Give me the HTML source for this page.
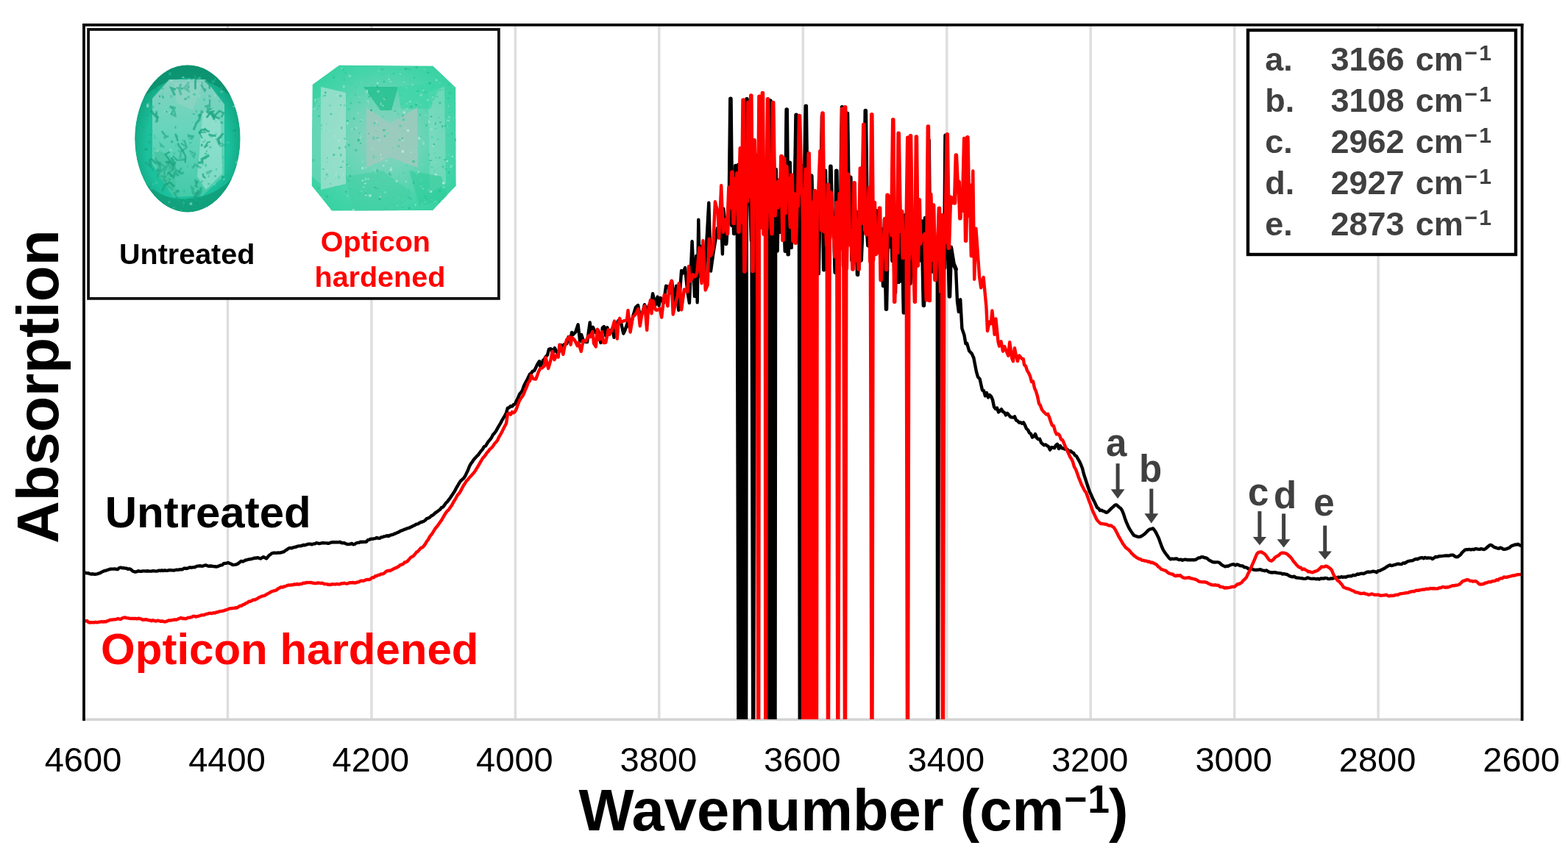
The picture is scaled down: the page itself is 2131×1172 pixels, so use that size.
<!DOCTYPE html>
<html><head><meta charset="utf-8"><title>Absorption spectra</title>
<style>
html,body{margin:0;padding:0;background:#fff;width:2131px;height:1172px;overflow:hidden}
svg{display:block}
text{font-family:"Liberation Sans", Arial, sans-serif}
</style></head><body>
<svg width="2131" height="1172" viewBox="0 0 2131 1172">
<defs><clipPath id="pa"><rect x="116" y="36" width="1951" height="942"/></clipPath></defs>
<rect width="2131" height="1172" fill="#fff"/>
<g stroke="#dedede" stroke-width="3.5"><line x1="309.5" y1="34" x2="309.5" y2="978"/><line x1="504.9" y1="34" x2="504.9" y2="978"/><line x1="700.4" y1="34" x2="700.4" y2="978"/><line x1="895.8" y1="34" x2="895.8" y2="978"/><line x1="1091.3" y1="34" x2="1091.3" y2="978"/><line x1="1286.8" y1="34" x2="1286.8" y2="978"/><line x1="1482.2" y1="34" x2="1482.2" y2="978"/><line x1="1677.7" y1="34" x2="1677.7" y2="978"/><line x1="1873.1" y1="34" x2="1873.1" y2="978"/></g>
<line x1="114" y1="978.3" x2="2068.6" y2="978.3" stroke="#d4d4d4" stroke-width="3.6"/>
<g font-weight="bold" font-size="60">
<text x="142.7" y="717.4" fill="#000">Untreated</text>
<text x="137.1" y="903.2" fill="#ff0000">Opticon hardened</text>
</g>
<g clip-path="url(#pa)" fill="none" stroke-width="4.4" stroke-linejoin="round" stroke-linecap="round">
<path d="M114.0 777.8L116.0 778.8 118.0 779.4 120.0 779.1 122.0 780.2 124.0 780.6 126.0 780.3 128.0 780.7 130.0 780.7 132.0 780.3 134.0 779.6 136.0 779.1 138.0 777.8 140.0 777.0 142.0 776.0 144.0 775.7 146.0 775.0 148.0 774.3 150.0 773.7 152.0 773.6 154.0 773.6 156.0 773.4 158.0 774.0 160.0 774.0 162.0 772.2 164.0 771.7 166.0 772.2 168.0 772.3 170.0 772.6 172.0 772.8 174.0 773.9 176.0 773.4 178.0 774.2 180.0 776.3 182.0 777.2 184.0 777.7 186.0 777.1 188.0 776.3 190.0 776.7 192.0 776.9 194.0 776.4 196.0 776.4 198.0 776.6 200.0 776.3 202.0 776.5 204.0 776.6 206.0 776.6 208.0 776.2 210.0 776.4 212.0 776.6 214.0 776.4 216.0 775.6 218.0 776.0 220.0 775.5 222.0 776.0 224.0 775.3 226.0 775.9 228.0 775.7 230.0 775.1 232.0 775.2 234.0 775.4 236.0 775.6 238.0 775.1 240.0 774.7 242.0 774.9 244.0 774.4 246.0 774.3 248.0 774.2 250.0 772.8 252.0 772.7 254.0 773.0 256.0 772.2 258.0 771.4 260.0 771.7 262.0 771.4 264.0 771.4 266.0 770.6 268.0 769.6 270.0 769.6 272.0 769.3 274.0 769.7 276.0 769.6 278.0 768.6 280.0 768.4 282.0 769.3 284.0 769.8 286.0 769.5 288.0 769.7 290.0 770.1 292.0 770.3 294.0 770.5 296.0 770.1 298.0 769.3 300.0 768.4 302.0 768.2 304.0 766.2 306.0 765.9 308.0 765.7 310.0 765.0 312.0 766.0 314.0 766.6 316.0 768.0 318.0 767.9 320.0 767.7 322.0 767.2 324.0 766.0 326.0 764.3 328.0 762.9 330.0 763.5 332.0 762.6 334.0 761.5 336.0 761.1 338.0 760.5 340.0 760.4 342.0 759.8 344.0 759.3 346.0 758.6 348.0 758.8 350.0 758.2 352.0 758.8 354.0 759.5 356.0 758.4 358.0 757.3 360.0 758.3 362.0 759.4 364.0 757.2 366.0 754.8 368.0 753.6 370.0 752.1 372.0 751.7 374.0 751.6 376.0 751.9 378.0 751.5 380.0 751.6 382.0 751.3 384.0 750.7 386.0 750.1 388.0 748.4 390.0 747.3 392.0 745.8 394.0 744.9 396.0 745.4 398.0 744.6 400.0 744.0 402.0 743.7 404.0 742.9 406.0 742.4 408.0 742.3 410.0 742.0 412.0 741.0 414.0 741.3 416.0 740.7 418.0 740.0 420.0 739.6 422.0 739.6 424.0 740.4 426.0 739.4 428.0 739.4 430.0 738.2 432.0 738.6 434.0 739.1 436.0 738.7 438.0 738.2 440.0 738.2 442.0 738.4 444.0 738.4 446.0 738.9 448.0 738.3 450.0 737.5 452.0 737.3 454.0 737.2 456.0 737.2 458.0 737.2 460.0 737.4 462.0 736.8 464.0 738.0 466.0 738.2 468.0 738.2 470.0 739.2 472.0 740.0 474.0 739.9 476.0 739.7 478.0 738.9 480.0 740.3 482.0 739.8 484.0 738.5 486.0 737.9 488.0 737.8 490.0 736.8 492.0 737.0 494.0 736.6 496.0 736.9 498.0 736.5 500.0 734.1 502.0 733.9 504.0 732.6 506.0 732.9 508.0 732.4 510.0 732.1 512.0 731.0 514.0 731.7 516.0 731.9 518.0 730.4 520.0 730.2 522.0 729.4 524.0 729.1 526.0 728.2 528.0 729.0 530.0 727.8 532.0 727.2 534.0 726.9 536.0 725.8 538.0 725.1 540.0 724.1 542.0 723.4 544.0 722.1 546.0 721.3 548.0 720.6 550.0 719.7 552.0 719.1 554.0 718.2 556.0 717.8 558.0 716.7 560.0 715.9 562.0 714.8 564.0 713.9 566.0 712.6 568.0 712.4 570.0 711.0 572.0 710.0 574.0 709.5 576.0 708.7 578.0 707.3 580.0 705.1 582.0 704.5 584.0 703.5 586.0 701.4 588.0 700.7 590.0 698.8 592.0 697.0 594.0 695.8 596.0 694.2 598.0 692.8 600.0 690.2 602.0 689.5 604.0 686.9 606.0 683.9 608.0 682.1 610.0 679.3 612.0 676.8 614.0 673.7 616.0 670.7 618.0 667.7 620.0 663.7 622.0 660.5 624.0 656.9 626.0 654.0 628.0 652.2 630.0 650.4 632.0 647.6 634.0 643.4 636.0 639.3 638.0 634.0 640.0 630.4 642.0 627.9 644.0 624.7 646.0 622.5 648.0 620.3 650.0 618.4 652.0 615.5 654.0 612.9 656.0 610.8 658.0 607.0 660.0 606.4 662.0 603.0 664.0 599.9 666.0 597.8 668.0 594.9 670.0 591.1 672.0 588.9 674.0 586.2 676.0 582.6 678.0 579.1 680.0 575.9 682.0 571.9 684.0 568.7 686.0 565.3 688.0 561.4 690.0 554.6 692.0 554.3 694.0 552.1 696.0 552.5 698.0 550.1 700.0 549.3 702.0 544.7 704.0 541.0 706.0 536.0 708.0 533.6 710.0 530.8 712.0 524.8 714.0 520.6 716.0 517.1 718.0 512.9 720.0 508.8 722.0 507.4 724.0 504.6 726.0 504.1 728.0 500.4 730.0 496.0 733.0 491.2 734.4 498.2 738.3 489.5 739.7 489.0 741.2 485.6 744.0 482.7 746.0 474.8 747.7 474.2 749.4 474.7 751.4 481.1 753.9 473.1 757.2 479.8 759.9 478.2 762.4 469.0 765.0 477.3 766.5 468.3 770.2 467.4 772.6 458.1 774.9 463.5 777.1 451.9 778.8 455.1 782.2 451.5 785.6 441.3 788.2 464.0 790.1 454.9 793.1 463.6 795.4 464.8 798.0 465.1 801.7 438.5 803.7 456.2 805.9 444.8 808.1 450.0 811.0 453.5 812.8 449.0 816.4 466.0 818.8 445.7 820.9 444.0 823.3 456.5 825.3 445.2 828.6 453.5 832.2 446.4 834.5 458.8 837.3 443.7 840.1 436.0 843.6 437.1 847.3 453.5 849.4 449.0 853.1 438.3 856.3 447.2 860.1 430.4 863.9 417.9 867.1 415.0 870.0 431.4 873.6 424.8 875.9 414.2 878.3 418.3 880.4 424.6 882.1 414.8 884.3 418.7 887.1 399.2 890.7 414.6 893.7 403.5 895.5 415.5 897.6 404.9 899.8 408.5 902.0 411.7 905.1 388.7 908.3 389.9 910.8 398.3 913.2 382.5 916.1 411.9 919.1 388.7 922.3 421.7 926.1 368.0 927.5 372.0 931.1 364.1 934.3 396.5 936.9 411.8 940.6 328.1 944.0 403.1 946.2 348.0 947.7 411.4 949.3 298.8 950.9 375.5 953.5 334.7 957.1 376.6 960.8 320.9 963.3 275.6 966.0 368.6 969.7 342.3 972.9 323.5 974.9 310.2 977.5 313.6 979.7 285.9 981.9 345.5 983.3 283.8 985.2 300.9 986.7 331.4 988.6 301.1 991.0 302.9 992.9 134.2 994.8 306.1 996.2 268.8 997.7 317.5 999.8 225.5 1001.8 304.7 1003.5 1010.0 1003.7 224.4 1004.5 1010.0 1005.6 357.3 1006.5 1010.0 1007.5 1010.0 1007.8 244.2 1009.5 1010.0 1009.5 310.0 1010.5 1010.0 1011.0 269.8 1013.1 1010.0 1013.3 310.1 1014.1 1010.0 1015.0 134.7 1017.2 270.4 1019.3 254.9 1021.5 326.6 1023.3 1010.0 1023.7 221.9 1024.3 1010.0 1025.4 309.9 1027.1 211.9 1029.0 294.4 1031.0 236.6 1033.3 262.4 1035.1 237.4 1036.8 262.2 1039.0 221.2 1041.2 270.2 1042.7 239.3 1044.3 1010.0 1044.4 260.1 1045.3 1010.0 1046.8 137.0 1048.9 353.1 1049.0 1010.0 1050.0 1010.0 1050.3 232.7 1052.1 319.2 1052.5 1010.0 1053.5 1010.0 1054.2 230.5 1056.0 341.0 1058.3 245.3 1060.3 315.3 1062.5 213.6 1064.0 289.4 1065.6 276.1 1067.3 341.2 1069.2 149.0 1071.2 345.6 1073.2 221.4 1075.2 336.3 1077.5 271.4 1079.8 296.9 1082.1 156.2 1083.7 299.9 1085.9 250.9 1086.8 1010.0 1087.8 1010.0 1088.3 353.6 1090.6 225.7 1093.0 280.7 1095.3 144.4 1097.1 290.4 1098.8 241.5 1100.6 276.7 1102.8 239.0 1105.2 343.6 1107.0 284.7 1108.5 304.5 1110.0 303.3 1112.2 371.8 1114.2 264.1 1115.7 283.1 1117.5 157.6 1119.7 366.7 1121.5 232.4 1123.7 365.5 1125.2 277.2 1126.8 358.7 1128.9 226.3 1130.8 305.6 1132.9 293.1 1135.2 370.2 1136.8 232.4 1138.3 352.4 1140.0 304.4 1142.3 314.3 1144.5 145.8 1146.6 361.0 1148.3 152.4 1149.8 360.2 1151.5 154.2 1153.6 300.6 1155.8 241.3 1158.0 353.9 1160.0 265.8 1161.9 325.4 1163.5 288.4 1165.5 373.3 1167.9 314.8 1170.2 354.0 1172.4 294.0 1174.5 315.8 1176.3 150.6 1178.3 309.6 1179.9 333.6 1181.8 326.1 1183.4 284.5 1185.6 354.8 1187.5 320.3 1189.0 325.6 1191.0 286.7 1192.5 313.6 1194.5 340.7 1196.8 318.4 1198.9 312.2 1200.6 388.5 1202.5 298.6 1204.5 420.3 1206.8 291.9 1208.7 335.1 1211.0 282.1 1213.0 354.3 1214.6 325.4 1216.4 397.8 1218.7 303.4 1221.1 383.3 1223.4 308.6 1224.9 381.7 1226.5 316.3 1228.4 425.0 1230.6 292.6 1232.6 357.6 1234.8 305.7 1236.8 385.4 1238.3 344.2 1239.7 325.4 1241.7 325.8 1243.6 366.4 1245.7 327.3 1247.6 328.4 1249.2 292.1 1250.7 353.8 1253.1 301.0 1255.4 415.2 1257.5 296.6 1259.8 379.5 1262.1 190.9 1263.8 358.0 1265.6 324.0 1267.5 369.0 1269.9 332.3 1271.9 363.7 1273.8 326.1 1274.0 1010.0 1275.0 1010.0 1276.1 354.0 1278.3 301.1 1279.9 333.3 1281.5 320.8 1283.6 364.1 1285.1 184.4 1286.7 350.2 1288.3 298.4 1290.5 402.9 1292.4 336.4 1296.0 358.6 1299.1 365.9 1301.0 409.7 1302.9 424.0 1305.2 407.1 1307.4 446.6 1310.5 455.8 1312.4 467.2 1314.1 466.7 1317.1 477.0 1320.9 481.1 1323.3 486.5 1326.9 505.2 1329.0 512.5 1331.6 515.3 1335.0 530.6 1337.0 531.1 1339.0 538.3 1341.0 534.1 1343.0 540.4 1345.0 537.0 1347.0 539.0 1349.0 543.5 1351.0 553.3 1353.0 556.0 1355.0 554.5 1357.0 560.4 1359.0 558.7 1361.0 556.4 1363.0 559.8 1365.0 560.8 1367.0 564.4 1369.0 561.8 1371.0 564.0 1373.0 566.6 1375.0 567.4 1377.0 567.6 1379.0 566.3 1381.0 571.4 1383.0 572.3 1385.0 574.7 1387.0 574.1 1389.0 575.8 1391.0 574.4 1393.0 578.1 1395.0 582.9 1397.0 584.5 1399.0 588.5 1401.0 589.9 1403.0 594.6 1405.0 593.6 1407.0 590.1 1409.0 595.3 1411.0 597.2 1413.0 596.8 1415.0 601.8 1417.0 603.6 1419.0 605.3 1421.0 604.5 1423.0 606.0 1425.0 607.1 1427.0 611.7 1429.0 608.3 1431.0 608.4 1433.0 609.3 1435.0 605.4 1437.0 603.8 1439.0 610.1 1441.0 606.1 1443.0 609.2 1445.0 609.5 1447.0 610.7 1449.0 610.0 1451.0 611.3 1453.0 614.1 1455.0 613.0 1457.0 615.0 1459.0 616.0 1461.0 619.1 1463.0 620.2 1465.0 623.9 1467.0 627.3 1469.0 631.6 1471.0 636.8 1473.0 644.8 1475.0 650.8 1477.0 657.0 1479.0 663.0 1481.0 668.7 1483.0 673.0 1485.0 677.6 1487.0 681.4 1489.0 685.6 1491.0 690.0 1493.0 691.4 1495.0 694.1 1497.0 693.6 1499.0 694.9 1501.0 695.3 1503.0 696.9 1505.0 696.5 1507.0 694.6 1509.0 692.6 1511.0 690.6 1513.0 689.0 1515.0 686.9 1517.0 686.3 1519.0 687.8 1521.0 689.7 1523.0 691.1 1525.0 694.0 1527.0 698.9 1529.0 705.2 1531.0 710.4 1533.0 714.9 1535.0 718.9 1537.0 722.1 1539.0 725.1 1541.0 727.9 1543.0 728.7 1545.0 729.3 1547.0 730.0 1549.0 729.9 1551.0 729.1 1553.0 727.8 1555.0 726.5 1557.0 724.7 1559.0 722.5 1561.0 720.7 1563.0 719.4 1565.0 719.1 1567.0 718.4 1569.0 720.8 1571.0 724.0 1573.0 728.1 1575.0 732.3 1577.0 738.1 1579.0 743.5 1581.0 747.9 1583.0 751.0 1585.0 753.8 1587.0 756.2 1589.0 759.0 1591.0 760.4 1593.0 759.6 1595.0 760.1 1597.0 759.7 1599.0 759.5 1601.0 760.6 1603.0 761.1 1605.0 760.7 1607.0 761.8 1609.0 761.0 1611.0 760.6 1613.0 761.2 1615.0 761.3 1617.0 761.2 1619.0 761.2 1621.0 761.3 1623.0 761.2 1625.0 761.0 1627.0 759.6 1629.0 758.5 1631.0 758.3 1633.0 757.3 1635.0 757.4 1637.0 758.2 1639.0 758.5 1641.0 759.5 1643.0 761.5 1645.0 762.4 1647.0 763.6 1649.0 764.3 1651.0 764.5 1653.0 764.4 1655.0 764.4 1657.0 764.8 1659.0 766.7 1661.0 768.4 1663.0 769.4 1665.0 770.4 1667.0 769.7 1669.0 769.8 1671.0 768.8 1673.0 768.0 1675.0 767.4 1677.0 767.3 1679.0 768.6 1681.0 767.5 1683.0 768.0 1685.0 769.0 1687.0 769.4 1689.0 769.5 1691.0 771.2 1693.0 771.4 1695.0 772.0 1697.0 773.7 1699.0 773.7 1701.0 773.1 1703.0 774.3 1705.0 774.8 1707.0 775.1 1709.0 774.6 1711.0 774.7 1713.0 774.2 1715.0 775.3 1717.0 775.7 1719.0 776.2 1721.0 775.5 1723.0 776.7 1725.0 777.8 1727.0 778.3 1729.0 778.5 1731.0 778.3 1733.0 778.2 1735.0 778.8 1737.0 779.1 1739.0 779.3 1741.0 779.4 1743.0 780.6 1745.0 780.1 1747.0 780.7 1749.0 781.0 1751.0 782.2 1753.0 783.3 1755.0 784.0 1757.0 784.3 1759.0 783.7 1761.0 785.3 1763.0 785.6 1765.0 785.7 1767.0 786.1 1769.0 786.2 1771.0 786.7 1773.0 786.9 1775.0 786.6 1777.0 785.4 1779.0 786.1 1781.0 786.6 1783.0 786.9 1785.0 786.7 1787.0 786.9 1789.0 787.3 1791.0 786.8 1793.0 787.6 1795.0 786.5 1797.0 786.4 1799.0 786.6 1801.0 785.9 1803.0 786.1 1805.0 787.0 1807.0 787.1 1809.0 786.4 1811.0 786.6 1813.0 785.8 1815.0 785.1 1817.0 785.1 1819.0 784.8 1821.0 785.1 1823.0 784.1 1825.0 784.8 1827.0 784.4 1829.0 784.7 1831.0 783.7 1833.0 783.4 1835.0 783.3 1837.0 783.2 1839.0 781.9 1841.0 782.3 1843.0 781.6 1845.0 780.5 1847.0 780.7 1849.0 779.9 1851.0 779.8 1853.0 780.1 1855.0 779.3 1857.0 778.1 1859.0 777.5 1861.0 777.7 1863.0 777.6 1865.0 777.0 1867.0 776.8 1869.0 777.3 1871.0 778.2 1873.0 776.1 1875.0 776.1 1877.0 774.9 1879.0 774.0 1881.0 773.0 1883.0 771.8 1885.0 770.4 1887.0 769.3 1889.0 768.3 1891.0 769.1 1893.0 768.6 1895.0 768.0 1897.0 767.6 1899.0 766.7 1901.0 766.8 1903.0 767.1 1905.0 767.0 1907.0 765.4 1909.0 765.8 1911.0 764.7 1913.0 763.4 1915.0 762.8 1917.0 762.4 1919.0 762.4 1921.0 761.5 1923.0 760.4 1925.0 760.0 1927.0 760.3 1929.0 758.9 1931.0 758.5 1933.0 758.1 1935.0 759.3 1937.0 757.9 1939.0 758.9 1941.0 758.5 1943.0 758.6 1945.0 758.7 1947.0 760.1 1949.0 758.6 1951.0 757.0 1953.0 757.4 1955.0 756.5 1957.0 756.2 1959.0 756.1 1961.0 755.9 1963.0 755.6 1965.0 755.5 1967.0 755.5 1969.0 755.6 1971.0 755.0 1973.0 754.6 1975.0 754.6 1977.0 756.4 1979.0 757.2 1981.0 757.1 1983.0 755.7 1985.0 754.1 1987.0 751.4 1989.0 749.5 1991.0 747.6 1993.0 747.1 1995.0 747.2 1997.0 746.8 1999.0 747.5 2001.0 746.8 2003.0 747.2 2005.0 746.1 2007.0 746.3 2009.0 746.7 2011.0 746.9 2013.0 746.2 2015.0 746.7 2017.0 747.0 2019.0 746.1 2021.0 744.2 2023.0 742.5 2025.0 741.0 2027.0 741.1 2029.0 742.7 2031.0 744.1 2033.0 744.6 2035.0 745.3 2037.0 745.9 2039.0 744.6 2041.0 745.4 2043.0 746.8 2045.0 746.8 2047.0 746.4 2049.0 745.7 2051.0 745.0 2053.0 743.2 2055.0 741.8 2057.0 741.3 2059.0 740.4 2061.0 740.6 2063.0 739.8 2065.0 741.0 2067.0 742.0 2069.0 742.6" stroke="#000"/>
<path d="M985.2 300.9L986.7 331.4 988.6 301.1 991.0 302.9 992.9 134.2 994.8 306.1 996.2 268.8 997.7 317.5 999.8 225.5 1001.8 304.7 1003.7 224.4 1005.6 357.3 1007.8 244.2 1009.5 310.0 1011.0 269.8 1013.3 310.1 1015.0 134.7 1017.2 270.4 1019.3 254.9 1021.5 326.6 1023.7 221.9 1025.4 309.9 1027.1 211.9 1029.0 294.4 1031.0 236.6 1033.3 262.4 1035.1 237.4 1036.8 262.2 1039.0 221.2 1041.2 270.2 1042.7 239.3 1044.4 260.1 1046.8 137.0 1048.9 353.1 1050.3 232.7 1052.1 319.2 1054.2 230.5 1056.0 341.0 1058.3 245.3 1060.3 315.3 1062.5 213.6 1064.0 289.4 1065.6 276.1 1067.3 341.2 1069.2 149.0 1071.2 345.6 1073.2 221.4 1075.2 336.3 1077.5 271.4 1079.8 296.9 1082.1 156.2 1083.7 299.9 1085.9 250.9 1088.3 353.6 1090.6 225.7 1093.0 280.7 1095.3 144.4 1097.1 290.4 1098.8 241.5 1100.6 276.7 1102.8 239.0 1105.2 343.6 1107.0 284.7 1108.5 304.5 1110.0 303.3 1112.2 371.8 1114.2 264.1 1115.7 283.1 1117.5 157.6 1119.7 366.7 1121.5 232.4 1123.7 365.5 1125.2 277.2 1126.8 358.7 1128.9 226.3 1130.8 305.6 1132.9 293.1 1135.2 370.2 1136.8 232.4 1138.3 352.4 1140.0 304.4 1142.3 314.3 1144.5 145.8 1146.6 361.0 1148.3 152.4 1149.8 360.2 1151.5 154.2 1153.6 300.6 1155.8 241.3 1158.0 353.9 1160.0 265.8 1161.9 325.4 1163.5 288.4 1165.5 373.3 1167.9 314.8 1170.2 354.0 1172.4 294.0 1174.5 315.8 1176.3 150.6 1178.3 309.6 1179.9 333.6 1181.8 326.1 1183.4 284.5 1185.6 354.8 1187.5 320.3 1189.0 325.6 1191.0 286.7 1192.5 313.6 1194.5 340.7 1196.8 318.4 1198.9 312.2 1200.6 388.5 1202.5 298.6 1204.5 420.3 1206.8 291.9 1208.7 335.1 1211.0 282.1 1213.0 354.3 1214.6 325.4 1216.4 397.8 1218.7 303.4 1221.1 383.3 1223.4 308.6 1224.9 381.7 1226.5 316.3 1228.4 425.0 1230.6 292.6 1232.6 357.6 1234.8 305.7 1236.8 385.4 1238.3 344.2 1239.7 325.4 1241.7 325.8 1243.6 366.4 1245.7 327.3 1247.6 328.4 1249.2 292.1 1250.7 353.8 1253.1 301.0 1255.4 415.2 1257.5 296.6 1259.8 379.5 1262.1 190.9 1263.8 358.0 1265.6 324.0 1267.5 369.0 1269.9 332.3 1271.9 363.7 1273.8 326.1 1276.1 354.0 1278.3 301.1 1279.9 333.3 1281.5 320.8 1283.6 364.1 1285.1 184.4 1286.7 350.2 1288.3 298.4 1290.5 402.9 1292.4 336.4 1296.0 358.6 1299.1 365.9" stroke="#000" stroke-width="5.6"/>
<path d="M112.0 843.8L114.0 844.0 116.0 844.5 118.0 843.9 120.0 845.8 122.0 846.6 124.0 846.2 126.0 846.4 128.0 846.3 130.0 845.8 132.0 846.3 134.0 845.8 136.0 845.6 138.0 845.1 140.0 845.5 142.0 845.3 144.0 845.3 146.0 844.3 148.0 843.7 150.0 842.6 152.0 842.7 154.0 842.4 156.0 842.2 158.0 842.0 160.0 841.1 162.0 841.5 164.0 842.1 166.0 840.6 168.0 839.8 170.0 839.4 172.0 840.3 174.0 840.4 176.0 840.9 178.0 841.0 180.0 840.9 182.0 841.0 184.0 840.9 186.0 841.4 188.0 840.8 190.0 841.0 192.0 841.7 194.0 842.9 196.0 842.5 198.0 842.3 200.0 842.5 202.0 843.4 204.0 843.4 206.0 844.2 208.0 843.1 210.0 844.1 212.0 844.6 214.0 843.7 216.0 844.0 218.0 844.7 220.0 844.5 222.0 844.8 224.0 845.5 226.0 844.8 228.0 844.1 230.0 843.4 232.0 843.5 234.0 843.1 236.0 842.7 238.0 842.5 240.0 842.6 242.0 841.6 244.0 840.8 246.0 839.9 248.0 841.0 250.0 840.8 252.0 841.3 254.0 840.6 256.0 839.7 258.0 839.7 260.0 839.2 262.0 838.2 264.0 837.7 266.0 838.6 268.0 838.1 270.0 837.7 272.0 837.0 274.0 836.2 276.0 836.4 278.0 835.8 280.0 834.9 282.0 834.6 284.0 833.9 286.0 833.8 288.0 834.1 290.0 833.1 292.0 833.5 294.0 832.5 296.0 832.2 298.0 831.4 300.0 831.1 302.0 830.8 304.0 830.3 306.0 829.6 308.0 829.0 310.0 828.4 312.0 827.4 314.0 827.2 316.0 827.0 318.0 826.9 320.0 826.3 322.0 826.5 324.0 825.2 326.0 823.8 328.0 823.9 330.0 822.1 332.0 821.8 334.0 820.2 336.0 819.6 338.0 817.8 340.0 817.8 342.0 816.8 344.0 815.5 346.0 815.6 348.0 814.8 350.0 813.6 352.0 812.3 354.0 811.5 356.0 810.6 358.0 810.2 360.0 809.6 362.0 808.2 364.0 807.1 366.0 806.1 368.0 804.8 370.0 804.0 372.0 803.3 374.0 802.8 376.0 802.1 378.0 800.2 380.0 799.4 382.0 798.1 384.0 798.5 386.0 797.5 388.0 797.1 390.0 796.1 392.0 795.5 394.0 795.6 396.0 795.3 398.0 795.3 400.0 794.3 402.0 794.7 404.0 793.9 406.0 794.7 408.0 793.9 410.0 794.0 412.0 792.7 414.0 792.9 416.0 792.2 418.0 792.0 420.0 792.1 422.0 792.0 424.0 792.3 426.0 792.8 428.0 793.1 430.0 793.0 432.0 792.5 434.0 792.6 436.0 793.1 438.0 792.6 440.0 793.8 442.0 794.0 444.0 794.1 446.0 794.8 448.0 795.0 450.0 794.8 452.0 794.1 454.0 794.4 456.0 794.5 458.0 793.9 460.0 794.4 462.0 794.4 464.0 793.1 466.0 793.3 468.0 792.7 470.0 793.5 472.0 793.6 474.0 792.7 476.0 792.2 478.0 792.3 480.0 792.0 482.0 792.5 484.0 792.2 486.0 791.4 488.0 791.2 490.0 789.6 492.0 789.7 494.0 789.8 496.0 789.0 498.0 788.1 500.0 787.9 502.0 788.1 504.0 786.9 506.0 785.3 508.0 785.3 510.0 783.3 512.0 783.0 514.0 781.9 516.0 781.7 518.0 780.4 520.0 780.4 522.0 779.5 524.0 777.6 526.0 776.2 528.0 775.8 530.0 776.0 532.0 775.0 534.0 774.0 536.0 772.9 538.0 772.2 540.0 771.2 542.0 770.0 544.0 768.2 546.0 767.7 548.0 766.8 550.0 764.5 552.0 764.3 554.0 762.7 556.0 760.5 558.0 758.0 560.0 757.1 562.0 755.7 564.0 753.5 566.0 750.7 568.0 749.7 570.0 747.3 572.0 745.0 574.0 744.3 576.0 742.4 578.0 739.6 580.0 736.2 582.0 733.7 584.0 729.6 586.0 727.3 588.0 724.4 590.0 721.2 592.0 718.0 594.0 715.8 596.0 713.0 598.0 710.1 600.0 707.4 602.0 703.8 604.0 700.4 606.0 697.1 608.0 694.7 610.0 692.7 612.0 689.8 614.0 687.1 616.0 683.2 618.0 680.0 620.0 676.5 622.0 672.9 624.0 670.9 626.0 667.8 628.0 663.8 630.0 660.1 632.0 657.2 634.0 653.9 636.0 652.0 638.0 649.3 640.0 647.3 642.0 644.9 644.0 642.8 646.0 639.9 648.0 636.6 650.0 633.3 652.0 629.8 654.0 626.3 656.0 623.1 658.0 620.9 660.0 618.3 662.0 615.3 664.0 613.2 666.0 610.4 668.0 608.9 670.0 606.6 672.0 603.3 674.0 601.3 676.0 598.9 678.0 594.3 680.0 591.1 682.0 587.7 684.0 583.3 686.0 579.5 688.0 575.8 690.0 562.5 692.0 561.8 694.0 563.6 696.0 560.1 698.0 561.2 700.0 559.6 702.0 555.5 704.0 549.7 706.0 544.7 708.0 541.5 710.0 538.8 712.0 535.3 714.0 530.0 716.0 525.6 718.0 520.0 720.0 518.0 722.0 510.3 724.9 515.1 728.3 515.5 731.9 505.4 734.2 501.0 736.7 500.3 739.8 497.4 741.6 485.9 745.2 501.0 748.4 489.9 750.8 477.8 753.5 489.2 756.4 482.9 758.7 485.5 760.4 468.6 762.9 473.3 765.4 481.8 767.3 471.9 770.2 461.7 773.8 457.9 775.6 468.7 777.4 458.8 780.9 462.3 784.8 470.3 786.1 465.8 789.8 477.8 792.6 463.2 796.4 463.6 800.1 456.3 802.2 458.1 805.4 450.7 807.0 466.8 809.8 471.4 811.9 447.8 813.3 461.7 815.8 461.2 817.8 451.0 820.3 466.1 823.3 465.7 826.7 448.2 828.1 455.1 831.6 448.9 835.0 436.6 837.5 448.3 838.8 460.5 840.4 439.6 842.2 432.8 843.6 438.0 846.8 436.8 849.1 435.9 851.9 435.6 853.5 422.0 856.6 451.6 860.0 431.0 863.6 427.6 867.3 420.0 869.8 443.2 872.7 425.1 876.4 415.7 879.2 448.8 880.8 423.1 884.0 407.9 885.5 426.2 887.6 409.0 889.1 415.1 891.1 421.4 892.6 421.7 895.1 421.0 896.8 419.3 899.2 431.5 902.7 401.0 904.1 400.9 907.5 416.2 909.3 391.5 912.6 381.7 914.7 427.5 918.1 412.3 920.7 402.7 922.6 385.3 924.4 396.7 926.1 421.4 929.9 393.4 932.5 395.9 934.5 396.7 936.1 362.2 937.6 382.4 940.0 379.8 941.6 373.3 944.7 376.3 947.3 371.3 950.4 336.6 952.0 367.2 953.6 385.2 955.4 327.2 958.7 394.5 961.7 387.4 963.7 324.6 966.1 347.5 969.0 338.8 971.9 274.3 975.6 289.2 977.2 323.8 980.2 252.2 982.8 315.7 986.3 298.7 988.6 317.6 990.9 255.2 993.3 281.9 995.0 234.1 997.1 303.4 998.7 243.4 1000.3 275.6 1001.9 235.9 1004.0 315.1 1006.3 201.7 1008.3 302.1 1010.1 136.1 1011.9 369.0 1013.5 233.4 1015.3 273.8 1016.9 139.4 1018.5 266.6 1020.8 130.0 1023.1 368.5 1025.1 190.8 1026.9 278.1 1028.9 265.9 1030.2 1010.0 1030.5 290.3 1031.2 1010.0 1032.0 131.4 1034.4 309.1 1036.4 126.6 1037.9 318.1 1039.9 249.8 1040.2 1010.0 1041.2 1010.0 1041.8 310.4 1043.5 134.7 1045.2 283.7 1046.6 265.8 1049.0 317.6 1050.7 139.6 1053.0 292.8 1054.9 248.1 1057.0 281.8 1058.6 246.3 1060.1 278.7 1061.9 212.5 1064.0 326.5 1065.6 215.7 1067.1 289.6 1068.8 226.6 1070.6 268.5 1072.1 243.0 1074.4 308.4 1076.2 238.1 1078.0 327.4 1079.8 264.4 1081.3 330.2 1083.0 271.9 1084.5 279.8 1086.5 157.5 1088.8 255.0 1091.0 267.5 1091.0 1010.0 1092.0 1010.0 1092.9 349.3 1094.0 1010.0 1095.0 1010.0 1095.3 230.4 1097.0 1010.0 1097.4 335.0 1098.0 1010.0 1099.2 208.8 1100.0 1010.0 1101.0 1010.0 1101.2 352.8 1103.0 1010.0 1103.4 275.3 1104.0 1010.0 1105.5 340.4 1106.0 1010.0 1107.0 1010.0 1107.3 259.5 1108.8 312.9 1109.0 1010.0 1110.0 1010.0 1110.7 277.9 1112.6 269.4 1114.9 205.5 1116.3 312.1 1118.0 154.0 1119.9 314.5 1122.2 293.8 1123.7 333.1 1125.0 1010.0 1125.5 251.3 1126.0 1010.0 1127.7 323.4 1129.5 262.2 1131.0 307.6 1132.5 296.5 1134.8 348.8 1137.2 275.6 1138.3 1010.0 1139.0 355.6 1139.3 1010.0 1141.2 263.6 1143.0 337.8 1144.8 148.0 1146.3 333.6 1148.0 1010.0 1148.7 145.8 1149.0 1010.0 1150.3 364.8 1152.7 237.4 1154.5 332.5 1156.7 314.0 1159.0 366.0 1161.1 248.7 1163.4 354.3 1165.4 299.9 1167.2 365.9 1169.4 229.1 1171.6 303.0 1173.8 169.6 1175.6 311.7 1177.6 318.6 1179.4 302.1 1181.3 255.6 1182.9 355.4 1184.5 1010.0 1184.8 155.9 1185.5 1010.0 1186.6 353.3 1188.4 275.5 1190.3 345.5 1192.0 312.0 1193.7 343.2 1195.6 283.0 1197.2 380.7 1199.5 324.2 1201.2 337.8 1202.8 297.6 1204.6 366.4 1206.1 265.2 1207.5 313.5 1209.3 267.5 1211.7 319.4 1213.8 162.9 1215.7 410.3 1218.1 279.9 1219.7 343.5 1221.2 181.4 1223.5 314.1 1225.7 287.5 1227.3 350.4 1229.6 329.1 1231.7 333.1 1233.0 1010.0 1233.8 187.2 1234.0 1010.0 1235.4 351.8 1237.5 184.8 1239.7 344.1 1241.5 328.3 1243.4 410.1 1245.4 186.1 1247.3 360.9 1249.3 271.8 1250.7 331.3 1252.5 321.0 1254.5 323.0 1256.9 318.3 1259.3 407.7 1261.4 172.1 1263.3 408.4 1264.8 264.2 1267.1 353.2 1268.6 279.1 1270.9 380.4 1273.2 332.4 1274.9 329.1 1276.4 283.4 1278.7 396.4 1280.1 292.5 1280.9 1010.0 1281.7 307.8 1281.9 1010.0 1283.3 315.1 1285.0 329.4 1287.3 182.8 1289.4 337.1 1291.5 268.0 1293.8 275.7 1295.5 269.2 1297.6 275.9 1299.4 211.1 1301.4 255.2 1303.1 247.1 1304.9 296.8 1306.7 261.0 1308.3 286.2 1310.7 188.6 1312.6 327.2 1314.9 186.9 1316.8 293.1 1318.4 252.1 1320.4 347.7 1322.3 232.4 1324.2 379.7 1326.4 310.6 1328.7 343.0 1331.0 375.7 1333.2 391.2 1336.6 377.0 1340.4 416.9 1342.0 450.0 1344.7 437.4 1346.8 440.0 1348.4 422.4 1351.6 454.9 1353.4 433.4 1356.5 464.4 1358.1 470.7 1360.6 464.4 1363.0 477.7 1365.1 470.9 1367.2 476.1 1370.3 483.6 1372.2 465.1 1375.2 487.1 1376.9 491.2 1378.9 473.2 1380.5 481.3 1382.9 491.1 1385.1 483.4 1388.7 487.7 1390.7 487.9 1392.0 496.0 1394.0 497.7 1396.0 503.9 1398.0 507.0 1400.0 511.4 1402.0 519.1 1404.0 518.5 1406.0 527.6 1408.0 532.1 1410.0 538.8 1412.0 548.6 1414.0 551.4 1416.0 556.9 1418.0 559.5 1420.0 561.5 1422.0 563.5 1424.0 562.8 1426.0 567.1 1428.0 573.3 1430.0 578.4 1432.0 579.0 1434.0 586.4 1436.0 590.4 1438.0 589.9 1440.0 591.8 1442.0 597.4 1444.0 598.3 1446.0 602.5 1448.0 607.6 1450.0 611.9 1452.0 616.1 1454.0 620.7 1456.0 623.7 1458.0 627.8 1460.0 634.9 1462.0 638.1 1464.0 643.5 1466.0 649.4 1468.0 654.1 1470.0 659.3 1472.0 663.0 1474.0 667.1 1476.0 669.5 1478.0 675.0 1480.0 680.8 1482.0 685.8 1484.0 692.0 1486.0 696.8 1488.0 701.0 1490.0 705.4 1492.0 708.3 1494.0 710.3 1496.0 712.0 1498.0 712.1 1500.0 712.4 1502.0 712.7 1504.0 713.0 1506.0 714.1 1508.0 714.7 1510.0 714.5 1512.0 716.0 1514.0 717.3 1516.0 720.7 1518.0 724.6 1520.0 728.6 1522.0 732.1 1524.0 735.5 1526.0 739.1 1528.0 741.8 1530.0 744.6 1532.0 746.1 1534.0 747.5 1536.0 749.7 1538.0 752.4 1540.0 754.2 1542.0 756.1 1544.0 757.6 1546.0 758.7 1548.0 760.0 1550.0 760.3 1552.0 761.8 1554.0 761.9 1556.0 762.6 1558.0 762.6 1560.0 763.7 1562.0 763.5 1564.0 765.0 1566.0 764.7 1568.0 765.7 1570.0 766.8 1572.0 767.8 1574.0 770.3 1576.0 771.6 1578.0 773.9 1580.0 774.5 1582.0 775.3 1584.0 775.7 1586.0 777.5 1588.0 779.1 1590.0 779.9 1592.0 780.5 1594.0 780.8 1596.0 782.7 1598.0 783.2 1600.0 782.3 1602.0 782.9 1604.0 782.2 1606.0 784.1 1608.0 785.4 1610.0 785.9 1612.0 785.7 1614.0 785.5 1616.0 785.2 1618.0 786.3 1620.0 786.5 1622.0 787.1 1624.0 787.5 1626.0 788.3 1628.0 789.5 1630.0 790.8 1632.0 791.1 1634.0 791.4 1636.0 791.3 1638.0 791.5 1640.0 791.9 1642.0 793.3 1644.0 794.0 1646.0 795.0 1648.0 795.4 1650.0 795.5 1652.0 795.3 1654.0 795.9 1656.0 795.8 1658.0 797.7 1660.0 798.0 1662.0 798.1 1664.0 799.5 1666.0 799.0 1668.0 799.3 1670.0 798.9 1672.0 798.6 1674.0 797.9 1676.0 797.7 1678.0 797.7 1680.0 795.9 1682.0 794.0 1684.0 794.2 1686.0 792.9 1688.0 791.4 1690.0 788.9 1692.0 787.2 1694.0 784.9 1696.0 780.4 1698.0 776.9 1700.0 772.4 1702.0 767.6 1704.0 763.1 1706.0 758.4 1708.0 753.5 1710.0 751.1 1712.0 750.7 1714.0 750.3 1716.0 751.5 1718.0 752.6 1720.0 754.5 1722.0 757.3 1724.0 760.3 1726.0 762.1 1728.0 762.7 1730.0 761.3 1732.0 758.8 1734.0 757.1 1736.0 756.0 1738.0 755.0 1740.0 752.8 1742.0 751.6 1744.0 751.8 1746.0 752.0 1748.0 752.6 1750.0 753.9 1752.0 755.8 1754.0 757.7 1756.0 760.1 1758.0 763.4 1760.0 765.4 1762.0 768.0 1764.0 770.0 1766.0 771.5 1768.0 771.8 1770.0 774.3 1772.0 773.5 1774.0 774.6 1776.0 775.6 1778.0 777.3 1780.0 777.2 1782.0 778.1 1784.0 778.2 1786.0 777.3 1788.0 776.6 1790.0 776.0 1792.0 774.5 1794.0 772.8 1796.0 770.4 1798.0 770.8 1800.0 770.3 1802.0 769.6 1804.0 770.4 1806.0 771.7 1808.0 773.0 1810.0 775.4 1812.0 780.5 1814.0 784.1 1816.0 786.8 1818.0 789.5 1820.0 790.5 1822.0 793.1 1824.0 795.3 1826.0 798.5 1828.0 799.3 1830.0 800.1 1832.0 800.4 1834.0 801.2 1836.0 802.1 1838.0 803.1 1840.0 803.6 1842.0 805.2 1844.0 805.4 1846.0 805.9 1848.0 806.7 1850.0 807.0 1852.0 806.9 1854.0 806.5 1856.0 807.5 1858.0 807.6 1860.0 808.7 1862.0 808.3 1864.0 807.4 1866.0 808.0 1868.0 808.8 1870.0 808.6 1872.0 808.7 1874.0 808.8 1876.0 809.7 1878.0 809.6 1880.0 809.4 1882.0 809.2 1884.0 808.6 1886.0 809.9 1888.0 810.5 1890.0 809.7 1892.0 810.0 1894.0 809.8 1896.0 809.2 1898.0 808.7 1900.0 808.7 1902.0 807.6 1904.0 807.1 1906.0 806.9 1908.0 806.6 1910.0 806.2 1912.0 806.0 1914.0 805.8 1916.0 804.8 1918.0 804.5 1920.0 803.9 1922.0 804.3 1924.0 802.9 1926.0 802.6 1928.0 802.8 1930.0 802.2 1932.0 801.8 1934.0 801.4 1936.0 801.5 1938.0 800.7 1940.0 800.8 1942.0 800.7 1944.0 799.9 1946.0 800.3 1948.0 800.0 1950.0 800.2 1952.0 800.4 1954.0 800.2 1956.0 799.2 1958.0 799.2 1960.0 798.2 1962.0 797.9 1964.0 798.8 1966.0 798.3 1968.0 798.5 1970.0 797.7 1972.0 797.1 1974.0 796.1 1976.0 796.4 1978.0 795.8 1980.0 795.6 1982.0 795.1 1984.0 794.2 1986.0 792.1 1988.0 790.1 1990.0 789.5 1992.0 789.0 1994.0 788.0 1996.0 788.7 1998.0 789.9 2000.0 789.9 2002.0 790.6 2004.0 790.1 2006.0 790.3 2008.0 791.7 2010.0 793.9 2012.0 794.6 2014.0 794.2 2016.0 794.0 2018.0 792.8 2020.0 792.5 2022.0 791.7 2024.0 791.2 2026.0 791.2 2028.0 790.2 2030.0 790.1 2032.0 789.7 2034.0 788.2 2036.0 788.7 2038.0 786.9 2040.0 786.3 2042.0 786.2 2044.0 784.4 2046.0 784.8 2048.0 784.9 2050.0 784.1 2052.0 783.7 2054.0 783.2 2056.0 782.5 2058.0 782.6 2060.0 781.8 2062.0 781.3 2064.0 781.1 2066.0 781.1 2068.0 781.0 2070.0 779.5" stroke="#ff0000"/>
<path d="M986.3 298.7L988.6 317.6 990.9 255.2 993.3 281.9 995.0 234.1 997.1 303.4 998.7 243.4 1000.3 275.6 1001.9 235.9 1004.0 315.1 1006.3 201.7 1008.3 302.1 1010.1 136.1 1011.9 369.0 1013.5 233.4 1015.3 273.8 1016.9 139.4 1018.5 266.6 1020.8 130.0 1023.1 368.5 1025.1 190.8 1026.9 278.1 1028.9 265.9 1030.5 290.3 1032.0 131.4 1034.4 309.1 1036.4 126.6 1037.9 318.1 1039.9 249.8 1041.8 310.4 1043.5 134.7 1045.2 283.7 1046.6 265.8 1049.0 317.6 1050.7 139.6 1053.0 292.8 1054.9 248.1 1057.0 281.8 1058.6 246.3 1060.1 278.7 1061.9 212.5 1064.0 326.5 1065.6 215.7 1067.1 289.6 1068.8 226.6 1070.6 268.5 1072.1 243.0 1074.4 308.4 1076.2 238.1 1078.0 327.4 1079.8 264.4 1081.3 330.2 1083.0 271.9 1084.5 279.8 1086.5 157.5 1088.8 255.0 1091.0 267.5 1092.9 349.3 1095.3 230.4 1097.4 335.0 1099.2 208.8 1101.2 352.8 1103.4 275.3 1105.5 340.4 1107.3 259.5 1108.8 312.9 1110.7 277.9 1112.6 269.4 1114.9 205.5 1116.3 312.1 1118.0 154.0 1119.9 314.5 1122.2 293.8 1123.7 333.1 1125.5 251.3 1127.7 323.4 1129.5 262.2 1131.0 307.6 1132.5 296.5 1134.8 348.8 1137.2 275.6 1139.0 355.6 1141.2 263.6 1143.0 337.8 1144.8 148.0 1146.3 333.6 1148.7 145.8 1150.3 364.8 1152.7 237.4 1154.5 332.5 1156.7 314.0 1159.0 366.0 1161.1 248.7 1163.4 354.3 1165.4 299.9 1167.2 365.9 1169.4 229.1 1171.6 303.0 1173.8 169.6 1175.6 311.7 1177.6 318.6 1179.4 302.1 1181.3 255.6 1182.9 355.4 1184.8 155.9 1186.6 353.3 1188.4 275.5 1190.3 345.5 1192.0 312.0 1193.7 343.2 1195.6 283.0 1197.2 380.7 1199.5 324.2 1201.2 337.8 1202.8 297.6 1204.6 366.4 1206.1 265.2 1207.5 313.5 1209.3 267.5 1211.7 319.4 1213.8 162.9 1215.7 410.3 1218.1 279.9 1219.7 343.5 1221.2 181.4 1223.5 314.1 1225.7 287.5 1227.3 350.4 1229.6 329.1 1231.7 333.1 1233.8 187.2 1235.4 351.8 1237.5 184.8 1239.7 344.1 1241.5 328.3 1243.4 410.1 1245.4 186.1 1247.3 360.9 1249.3 271.8 1250.7 331.3 1252.5 321.0 1254.5 323.0 1256.9 318.3 1259.3 407.7 1261.4 172.1 1263.3 408.4 1264.8 264.2 1267.1 353.2 1268.6 279.1 1270.9 380.4 1273.2 332.4 1274.9 329.1 1276.4 283.4 1278.7 396.4 1280.1 292.5 1281.7 307.8 1283.3 315.1 1285.0 329.4 1287.3 182.8 1289.4 337.1 1291.5 268.0 1293.8 275.7 1295.5 269.2 1297.6 275.9 1299.4 211.1 1301.4 255.2 1303.1 247.1 1304.9 296.8 1306.7 261.0 1308.3 286.2 1310.7 188.6 1312.6 327.2 1314.9 186.9 1316.8 293.1 1318.4 252.1 1320.4 347.7" stroke="#ff0000" stroke-width="5.6"/>
</g>
<g stroke="#000" stroke-width="3.8" fill="none">
<line x1="114" y1="32" x2="114" y2="980"/>
<line x1="112" y1="33.8" x2="2070.4" y2="33.8"/>
<line x1="2068.6" y1="32" x2="2068.6" y2="980"/>
</g>
<rect x="120.1" y="40" width="557.8" height="365.9" fill="#fff" stroke="#111" stroke-width="3.8"/>
<rect x="1696" y="41" width="364" height="305" fill="#fff" stroke="#000" stroke-width="4.4"/>

<defs>
<linearGradient id="gt" x1="0" y1="0" x2="0" y2="1">
<stop offset="0" stop-color="#82d1c0"/><stop offset="0.45" stop-color="#66d5bb"/><stop offset="1" stop-color="#44caa8"/>
</linearGradient>
<radialGradient id="gr" cx="0.5" cy="0.55" r="0.55">
<stop offset="0.7" stop-color="#1cc09d"/><stop offset="1" stop-color="#10a27e"/>
</radialGradient>
<clipPath id="co"><ellipse cx="254.9" cy="188.4" rx="71.8" ry="100"/></clipPath>
</defs>
<g clip-path="url(#co)">
<ellipse cx="254.9" cy="188.4" rx="71.8" ry="100" fill="url(#gr)"/>
<path d="M180 88 L330 88 L330 150 Q300 108 255 106 Q210 108 180 150 Z" fill="#0c8f6d" opacity="0.85"/>
<path d="M180 230 Q215 275 255 270 Q300 268 330 225 L330 292 L180 292 Z" fill="#0f9a74" opacity="0.75"/>
<polygon points="230,108 279,108 305,142 305,239 275,266 236,268 207,223 207,134" fill="url(#gt)"/>
<polygon points="276,150 300,165 302,236 280,258 268,240" fill="#a3e6d6" opacity="0.6"/>
<polygon points="236,112 276,112 262,150 240,140" fill="#9ad6c6" opacity="0.5"/>
<polygon points="208,200 236,215 240,268 215,240" fill="#3fc29c" opacity="0.6"/>
<rect x="272.5" y="265.2" width="2.1" height="2.3" fill="#3fc59f" opacity="0.65"/><rect x="296.6" y="182.3" width="2.3" height="2.2" fill="#a3e3d2" opacity="0.40"/><rect x="247.3" y="189.4" width="4.0" height="3.5" fill="#3fc59f" opacity="0.55"/><rect x="207.4" y="210.2" width="1.6" height="1.6" fill="#3fc59f" opacity="0.51"/><rect x="250.3" y="269.0" width="2.8" height="2.7" fill="#22c09a" opacity="0.40"/><rect x="281.9" y="130.7" width="2.4" height="1.5" fill="#a3e3d2" opacity="0.63"/><rect x="206.6" y="143.6" width="2.8" height="3.6" fill="#22c09a" opacity="0.56"/><rect x="288.8" y="109.7" width="2.9" height="2.8" fill="#22c09a" opacity="0.65"/><rect x="235.6" y="207.4" width="2.5" height="2.3" fill="#17a883" opacity="0.36"/><rect x="299.3" y="165.2" width="3.9" height="3.0" fill="#17a883" opacity="0.54"/><rect x="274.3" y="222.6" width="2.6" height="2.1" fill="#22c09a" opacity="0.46"/><rect x="215.1" y="221.7" width="2.3" height="3.7" fill="#17a883" opacity="0.56"/><rect x="203.4" y="255.1" width="3.8" height="2.9" fill="#3fc59f" opacity="0.36"/><rect x="262.3" y="126.8" width="3.7" height="3.1" fill="#22c09a" opacity="0.53"/><rect x="237.7" y="171.3" width="1.6" height="3.7" fill="#0f9874" opacity="0.49"/><rect x="261.7" y="154.2" width="3.4" height="1.6" fill="#0f9874" opacity="0.45"/><rect x="320.4" y="218.9" width="2.8" height="3.7" fill="#a3e3d2" opacity="0.44"/><rect x="267.6" y="224.0" width="2.4" height="2.8" fill="#3fc59f" opacity="0.61"/><rect x="290.4" y="248.4" width="2.5" height="3.5" fill="#a3e3d2" opacity="0.31"/><rect x="273.0" y="245.1" width="2.8" height="3.3" fill="#17a883" opacity="0.39"/><rect x="212.8" y="162.1" width="2.4" height="3.9" fill="#17a883" opacity="0.53"/><rect x="232.6" y="144.4" width="3.9" height="2.6" fill="#17a883" opacity="0.69"/><rect x="257.2" y="192.6" width="3.4" height="3.0" fill="#22c09a" opacity="0.47"/><rect x="307.9" y="171.4" width="3.8" height="1.7" fill="#22c09a" opacity="0.47"/><rect x="257.7" y="275.5" width="3.5" height="3.2" fill="#a3e3d2" opacity="0.59"/><rect x="273.1" y="279.5" width="2.3" height="2.5" fill="#0f9874" opacity="0.38"/><rect x="200.7" y="208.5" width="3.0" height="3.1" fill="#22c09a" opacity="0.42"/><rect x="319.6" y="181.9" width="3.1" height="3.1" fill="#3fc59f" opacity="0.37"/><rect x="193.7" y="171.4" width="3.5" height="3.3" fill="#17a883" opacity="0.35"/><rect x="307.9" y="193.0" width="3.8" height="1.6" fill="#a3e3d2" opacity="0.31"/><rect x="219.8" y="128.2" width="1.6" height="3.0" fill="#22c09a" opacity="0.37"/><rect x="228.5" y="273.1" width="2.8" height="3.5" fill="#3fc59f" opacity="0.56"/><rect x="270.5" y="128.9" width="1.6" height="3.5" fill="#a3e3d2" opacity="0.68"/><rect x="232.4" y="153.4" width="1.8" height="3.1" fill="#3fc59f" opacity="0.62"/><rect x="228.9" y="258.5" width="1.8" height="3.4" fill="#3fc59f" opacity="0.65"/><rect x="212.6" y="202.7" width="3.1" height="3.0" fill="#a3e3d2" opacity="0.34"/><rect x="277.6" y="214.0" width="3.5" height="2.3" fill="#22c09a" opacity="0.59"/><rect x="276.1" y="133.4" width="2.9" height="3.9" fill="#22c09a" opacity="0.45"/><rect x="220.4" y="180.1" width="1.8" height="2.5" fill="#22c09a" opacity="0.35"/><rect x="277.7" y="252.3" width="2.4" height="2.4" fill="#a3e3d2" opacity="0.52"/><rect x="215.1" y="139.8" width="2.6" height="1.7" fill="#0f9874" opacity="0.60"/><rect x="266.1" y="149.8" width="1.7" height="3.4" fill="#0f9874" opacity="0.35"/><rect x="222.7" y="151.1" width="3.0" height="2.0" fill="#a3e3d2" opacity="0.47"/><rect x="308.7" y="164.4" width="3.3" height="1.7" fill="#22c09a" opacity="0.59"/><rect x="293.7" y="251.4" width="2.4" height="1.7" fill="#22c09a" opacity="0.51"/><rect x="291.0" y="128.8" width="2.2" height="2.8" fill="#a3e3d2" opacity="0.60"/><rect x="210.8" y="246.3" width="3.3" height="4.0" fill="#3fc59f" opacity="0.68"/><rect x="303.0" y="242.0" width="2.5" height="3.1" fill="#a3e3d2" opacity="0.37"/><rect x="291.3" y="238.2" width="2.6" height="2.4" fill="#0f9874" opacity="0.47"/><rect x="260.9" y="166.8" width="2.9" height="3.3" fill="#a3e3d2" opacity="0.45"/><rect x="239.2" y="118.6" width="4.0" height="1.9" fill="#17a883" opacity="0.59"/><rect x="209.8" y="203.0" width="2.6" height="3.4" fill="#a3e3d2" opacity="0.38"/><rect x="313.0" y="133.9" width="1.7" height="2.7" fill="#22c09a" opacity="0.31"/><rect x="228.9" y="152.3" width="3.3" height="2.6" fill="#a3e3d2" opacity="0.32"/><rect x="313.3" y="139.6" width="2.1" height="1.8" fill="#17a883" opacity="0.31"/><rect x="255.5" y="115.8" width="1.9" height="3.7" fill="#0f9874" opacity="0.49"/><rect x="210.7" y="221.3" width="2.8" height="2.2" fill="#22c09a" opacity="0.51"/><rect x="273.0" y="195.5" width="2.5" height="3.5" fill="#0f9874" opacity="0.65"/><rect x="210.1" y="118.3" width="3.9" height="3.9" fill="#0f9874" opacity="0.39"/><rect x="255.9" y="188.0" width="3.8" height="1.6" fill="#17a883" opacity="0.43"/><rect x="269.0" y="104.8" width="2.7" height="3.7" fill="#3fc59f" opacity="0.60"/><rect x="301.1" y="238.9" width="3.3" height="3.6" fill="#0f9874" opacity="0.57"/><rect x="288.0" y="150.2" width="3.4" height="1.9" fill="#0f9874" opacity="0.67"/><rect x="268.5" y="155.6" width="3.8" height="1.9" fill="#17a883" opacity="0.51"/><rect x="265.6" y="247.1" width="3.5" height="3.3" fill="#17a883" opacity="0.56"/><rect x="318.1" y="175.7" width="2.5" height="3.2" fill="#0f9874" opacity="0.63"/><rect x="231.9" y="221.2" width="2.9" height="3.4" fill="#3fc59f" opacity="0.33"/><rect x="319.2" y="182.5" width="2.5" height="3.3" fill="#0f9874" opacity="0.51"/><rect x="287.3" y="108.4" width="2.9" height="3.8" fill="#22c09a" opacity="0.32"/><rect x="248.4" y="213.8" width="2.9" height="1.7" fill="#3fc59f" opacity="0.54"/><rect x="216.1" y="129.7" width="2.0" height="2.6" fill="#0f9874" opacity="0.60"/><rect x="284.0" y="198.8" width="3.5" height="2.7" fill="#22c09a" opacity="0.55"/><rect x="299.6" y="222.9" width="2.5" height="2.9" fill="#a3e3d2" opacity="0.46"/><rect x="289.2" y="165.4" width="2.7" height="3.4" fill="#a3e3d2" opacity="0.50"/><rect x="232.3" y="251.6" width="3.6" height="3.5" fill="#22c09a" opacity="0.48"/><rect x="239.6" y="258.0" width="2.9" height="2.9" fill="#0f9874" opacity="0.57"/><rect x="279.9" y="204.6" width="2.0" height="2.2" fill="#0f9874" opacity="0.42"/><rect x="245.3" y="284.8" width="2.4" height="2.6" fill="#3fc59f" opacity="0.45"/><rect x="266.4" y="274.9" width="2.4" height="2.2" fill="#0f9874" opacity="0.65"/><rect x="254.1" y="224.3" width="1.7" height="3.7" fill="#22c09a" opacity="0.43"/><rect x="254.2" y="130.2" width="3.6" height="3.6" fill="#22c09a" opacity="0.49"/><rect x="292.5" y="180.4" width="2.4" height="2.9" fill="#3fc59f" opacity="0.38"/><rect x="229.3" y="228.4" width="1.6" height="3.3" fill="#22c09a" opacity="0.63"/><rect x="247.3" y="104.1" width="3.2" height="2.1" fill="#a3e3d2" opacity="0.56"/><rect x="237.7" y="215.0" width="2.7" height="2.8" fill="#22c09a" opacity="0.55"/><rect x="225.5" y="151.1" width="2.1" height="1.7" fill="#0f9874" opacity="0.47"/><rect x="293.1" y="228.9" width="1.8" height="2.3" fill="#22c09a" opacity="0.61"/><rect x="253.3" y="270.2" width="3.1" height="3.1" fill="#17a883" opacity="0.61"/><rect x="290.0" y="158.4" width="2.6" height="2.7" fill="#0f9874" opacity="0.36"/><rect x="246.8" y="215.5" width="1.8" height="1.8" fill="#0f9874" opacity="0.37"/><rect x="208.1" y="183.5" width="2.6" height="1.9" fill="#22c09a" opacity="0.41"/><rect x="295.9" y="127.5" width="3.0" height="2.5" fill="#17a883" opacity="0.47"/><rect x="299.4" y="123.1" width="3.7" height="3.2" fill="#a3e3d2" opacity="0.32"/><rect x="277.9" y="207.9" width="3.4" height="2.0" fill="#22c09a" opacity="0.68"/><rect x="229.1" y="98.3" width="3.8" height="4.0" fill="#22c09a" opacity="0.54"/><rect x="278.2" y="222.9" width="2.9" height="3.9" fill="#22c09a" opacity="0.54"/><rect x="232.0" y="191.0" width="3.3" height="3.2" fill="#0f9874" opacity="0.47"/><rect x="304.2" y="237.8" width="2.3" height="1.7" fill="#17a883" opacity="0.35"/><rect x="210.8" y="150.7" width="3.8" height="2.2" fill="#22c09a" opacity="0.66"/><rect x="280.3" y="256.7" width="2.5" height="1.5" fill="#3fc59f" opacity="0.61"/><rect x="219.4" y="119.5" width="3.2" height="2.0" fill="#17a883" opacity="0.41"/><rect x="316.5" y="143.8" width="3.3" height="1.8" fill="#a3e3d2" opacity="0.63"/><rect x="201.5" y="191.6" width="2.9" height="3.6" fill="#0f9874" opacity="0.33"/><rect x="223.4" y="239.6" width="3.0" height="2.3" fill="#17a883" opacity="0.55"/><rect x="248.7" y="258.4" width="3.4" height="3.1" fill="#22c09a" opacity="0.60"/><rect x="238.0" y="231.9" width="3.2" height="2.5" fill="#0f9874" opacity="0.31"/><rect x="213.7" y="233.0" width="2.7" height="3.6" fill="#3fc59f" opacity="0.48"/><rect x="225.3" y="151.0" width="1.7" height="2.0" fill="#0f9874" opacity="0.41"/><rect x="250.2" y="133.4" width="3.8" height="2.2" fill="#0f9874" opacity="0.53"/><rect x="255.9" y="106.5" width="1.8" height="3.7" fill="#a3e3d2" opacity="0.49"/><rect x="268.3" y="259.0" width="1.5" height="2.8" fill="#22c09a" opacity="0.45"/><rect x="291.4" y="106.1" width="2.2" height="3.5" fill="#22c09a" opacity="0.49"/><rect x="248.4" y="278.9" width="1.6" height="2.5" fill="#22c09a" opacity="0.36"/><rect x="196.5" y="201.6" width="3.9" height="2.9" fill="#0f9874" opacity="0.56"/><rect x="230.3" y="202.2" width="3.0" height="3.5" fill="#a3e3d2" opacity="0.52"/><rect x="212.7" y="204.5" width="2.7" height="1.9" fill="#a3e3d2" opacity="0.55"/><rect x="299.4" y="118.1" width="3.3" height="2.5" fill="#22c09a" opacity="0.41"/><rect x="237.1" y="196.5" width="3.2" height="2.9" fill="#3fc59f" opacity="0.34"/><rect x="199.2" y="140.2" width="3.6" height="3.8" fill="#a3e3d2" opacity="0.32"/><rect x="231.5" y="129.2" width="2.7" height="3.8" fill="#17a883" opacity="0.33"/><rect x="209.0" y="186.0" width="3.4" height="2.6" fill="#22c09a" opacity="0.36"/><rect x="234.5" y="281.5" width="3.4" height="1.8" fill="#3fc59f" opacity="0.62"/><rect x="228.5" y="242.8" width="3.7" height="1.9" fill="#0f9874" opacity="0.48"/><rect x="277.6" y="190.0" width="1.9" height="1.8" fill="#17a883" opacity="0.41"/><rect x="203.2" y="181.7" width="3.0" height="2.2" fill="#0f9874" opacity="0.31"/><rect x="231.4" y="237.7" width="2.1" height="2.5" fill="#0f9874" opacity="0.60"/><rect x="241.9" y="263.2" width="2.3" height="3.3" fill="#3fc59f" opacity="0.40"/><rect x="204.5" y="176.5" width="3.0" height="3.8" fill="#22c09a" opacity="0.36"/><rect x="284.7" y="183.8" width="3.9" height="3.2" fill="#22c09a" opacity="0.35"/><rect x="198.0" y="156.0" width="3.8" height="1.6" fill="#17a883" opacity="0.67"/><rect x="270.6" y="104.9" width="2.6" height="2.9" fill="#3fc59f" opacity="0.59"/><rect x="206.9" y="248.9" width="2.5" height="3.5" fill="#3fc59f" opacity="0.66"/><rect x="248.4" y="274.0" width="2.4" height="3.9" fill="#3fc59f" opacity="0.46"/><rect x="237.5" y="238.0" width="2.7" height="2.6" fill="#22c09a" opacity="0.45"/><rect x="245.6" y="119.0" width="3.4" height="2.9" fill="#17a883" opacity="0.57"/><rect x="297.3" y="136.4" width="2.1" height="2.2" fill="#17a883" opacity="0.42"/><rect x="291.5" y="164.2" width="3.1" height="2.0" fill="#3fc59f" opacity="0.34"/><rect x="282.6" y="238.0" width="2.2" height="3.1" fill="#0f9874" opacity="0.31"/><rect x="241.6" y="203.5" width="2.4" height="3.0" fill="#22c09a" opacity="0.54"/><rect x="206.6" y="228.4" width="1.7" height="3.9" fill="#0f9874" opacity="0.38"/><rect x="220.5" y="130.7" width="2.2" height="3.0" fill="#17a883" opacity="0.70"/><rect x="258.0" y="208.1" width="3.3" height="2.3" fill="#22c09a" opacity="0.43"/><rect x="262.0" y="106.6" width="2.3" height="1.7" fill="#a3e3d2" opacity="0.31"/><rect x="314.8" y="176.0" width="2.0" height="3.3" fill="#0f9874" opacity="0.30"/><rect x="310.7" y="214.7" width="2.3" height="1.6" fill="#22c09a" opacity="0.39"/><rect x="273.7" y="111.4" width="1.9" height="3.8" fill="#17a883" opacity="0.43"/><rect x="231.6" y="108.7" width="3.2" height="2.9" fill="#a3e3d2" opacity="0.55"/><rect x="199.1" y="142.2" width="3.0" height="3.9" fill="#a3e3d2" opacity="0.63"/><rect x="274.7" y="192.1" width="3.7" height="1.7" fill="#0f9874" opacity="0.35"/><rect x="282.0" y="248.7" width="3.5" height="2.6" fill="#17a883" opacity="0.37"/><rect x="306.3" y="169.7" width="2.8" height="1.5" fill="#22c09a" opacity="0.48"/><rect x="212.9" y="229.5" width="2.8" height="3.7" fill="#0f9874" opacity="0.66"/><rect x="229.3" y="146.1" width="2.8" height="1.7" fill="#22c09a" opacity="0.32"/><rect x="323.7" y="203.8" width="1.6" height="2.8" fill="#22c09a" opacity="0.50"/><rect x="246.0" y="275.6" width="1.8" height="1.9" fill="#0f9874" opacity="0.46"/><rect x="301.8" y="212.4" width="3.3" height="2.9" fill="#22c09a" opacity="0.38"/><rect x="282.8" y="129.5" width="3.9" height="2.8" fill="#0f9874" opacity="0.32"/><rect x="245.0" y="219.4" width="1.6" height="2.1" fill="#3fc59f" opacity="0.31"/><rect x="260.6" y="165.6" width="2.2" height="3.1" fill="#22c09a" opacity="0.37"/><rect x="254.0" y="181.8" width="3.6" height="2.2" fill="#3fc59f" opacity="0.62"/>
<path d="M233.7 221.6 L235.4 230.1 L228.2 236.3 L228.9 233.8" stroke="#1ba582" stroke-width="2.5" fill="none" opacity="0.43"/><path d="M230.8 206.6 L224.4 210.0 L231.8 219.6 L238.0 225.7" stroke="#1ba582" stroke-width="2.3" fill="none" opacity="0.79"/><path d="M225.3 244.7 L227.2 245.1 L222.4 245.5" stroke="#1ba582" stroke-width="2.4" fill="none" opacity="0.45"/><path d="M217.8 234.2 L224.6 227.0 L216.8 222.3 L210.9 216.1 L212.3 214.5" stroke="#1ba582" stroke-width="2.6" fill="none" opacity="0.48"/><path d="M271.5 154.9 L270.9 163.0 L266.8 167.3 L263.8 175.2 L262.1 175.3" stroke="#1ba582" stroke-width="3.3" fill="none" opacity="0.67"/><path d="M235.1 258.6 L227.3 251.9 L222.7 243.6 L222.3 245.4" stroke="#1ba582" stroke-width="2.5" fill="none" opacity="0.44"/><path d="M286.1 234.7 L280.3 235.5 L282.4 234.1 L288.2 231.9" stroke="#1ba582" stroke-width="2.8" fill="none" opacity="0.45"/><path d="M261.4 228.8 L265.1 223.9 L272.9 228.3 L271.7 226.6" stroke="#1ba582" stroke-width="3.2" fill="none" opacity="0.47"/><path d="M269.0 221.4 L274.9 220.8 L274.4 216.5 L281.1 212.8 L284.2 211.0" stroke="#1ba582" stroke-width="3.4" fill="none" opacity="0.78"/><path d="M265.5 121.4 L265.4 112.4 L266.2 106.1 L264.1 102.2" stroke="#1ba582" stroke-width="2.9" fill="none" opacity="0.73"/><path d="M298.7 161.0 L290.7 158.4 L298.1 150.8 L304.0 153.8 L300.7 159.4" stroke="#1ba582" stroke-width="2.4" fill="none" opacity="0.76"/><path d="M280.0 179.6 L274.4 179.9 L271.1 180.9 L275.0 188.0" stroke="#1ba582" stroke-width="2.1" fill="none" opacity="0.64"/><path d="M303.4 181.3 L296.9 188.7 L298.2 196.5" stroke="#1ba582" stroke-width="3.2" fill="none" opacity="0.75"/><path d="M210.7 220.9 L205.9 216.2 L203.1 218.0 L205.1 226.7 L197.3 220.5" stroke="#1ba582" stroke-width="2.5" fill="none" opacity="0.73"/><path d="M260.0 189.4 L262.5 185.2 L255.9 184.4 L261.9 186.4 L254.8 185.2" stroke="#1ba582" stroke-width="2.6" fill="none" opacity="0.63"/><path d="M263.7 257.5 L261.1 255.6 L262.9 263.3 L266.2 262.8 L271.3 262.5" stroke="#1ba582" stroke-width="3.4" fill="none" opacity="0.51"/><path d="M217.7 238.7 L223.3 240.9 L223.4 232.6 L228.0 224.0 L235.5 231.5" stroke="#1ba582" stroke-width="2.5" fill="none" opacity="0.45"/><path d="M293.6 184.4 L287.6 184.3 L283.5 182.5" stroke="#1ba582" stroke-width="3.0" fill="none" opacity="0.77"/><path d="M285.1 135.0 L285.0 144.7 L278.4 145.0 L285.0 142.9" stroke="#1ba582" stroke-width="2.4" fill="none" opacity="0.62"/><path d="M237.0 253.7 L230.4 247.8 L223.7 252.1 L220.4 260.1" stroke="#1ba582" stroke-width="3.3" fill="none" opacity="0.77"/><path d="M243.8 259.2 L236.7 263.2 L243.4 272.6 L246.8 279.9" stroke="#1ba582" stroke-width="3.3" fill="none" opacity="0.54"/><path d="M214.9 222.8 L209.1 220.4 L217.0 221.6 L217.4 230.6 L213.9 240.6" stroke="#1ba582" stroke-width="3.4" fill="none" opacity="0.55"/><path d="M237.7 129.6 L232.7 119.8 L238.9 121.8" stroke="#1ba582" stroke-width="3.0" fill="none" opacity="0.69"/><path d="M255.0 117.8 L255.1 122.5 L257.6 124.9 L250.3 119.6 L256.7 112.0" stroke="#1ba582" stroke-width="2.8" fill="none" opacity="0.42"/><path d="M246.0 194.8 L253.0 199.5 L250.6 191.0 L253.9 200.4 L246.2 205.9" stroke="#1ba582" stroke-width="2.3" fill="none" opacity="0.58"/><path d="M257.3 205.2 L265.1 209.0 L263.4 213.3 L262.8 211.5 L260.7 211.4" stroke="#1ba582" stroke-width="2.4" fill="none" opacity="0.50"/><path d="M219.8 178.2 L225.2 185.2 L222.7 187.6 L229.2 184.8" stroke="#1ba582" stroke-width="2.8" fill="none" opacity="0.58"/><path d="M270.0 258.8 L264.2 268.1 L266.9 274.0" stroke="#1ba582" stroke-width="3.0" fill="none" opacity="0.75"/><path d="M237.6 219.7 L237.8 223.4 L233.0 214.6" stroke="#1ba582" stroke-width="3.2" fill="none" opacity="0.72"/><path d="M271.6 159.8 L274.1 151.5 L276.7 153.0" stroke="#1ba582" stroke-width="2.9" fill="none" opacity="0.58"/><path d="M227.5 222.5 L231.4 219.8 L224.8 220.6" stroke="#1ba582" stroke-width="2.9" fill="none" opacity="0.77"/><path d="M282.2 150.5 L285.3 148.1 L282.5 147.9 L283.0 151.8" stroke="#1ba582" stroke-width="3.0" fill="none" opacity="0.67"/><path d="M243.4 215.0 L245.1 214.2 L246.1 204.5" stroke="#1ba582" stroke-width="2.7" fill="none" opacity="0.49"/><path d="M243.6 121.4 L246.1 129.3 L243.8 121.4 L245.7 113.9" stroke="#1ba582" stroke-width="3.3" fill="none" opacity="0.45"/><path d="M241.2 186.7 L238.3 182.2 L241.7 191.9" stroke="#1ba582" stroke-width="2.5" fill="none" opacity="0.72"/><path d="M219.0 199.9 L218.0 195.7 L223.1 200.6" stroke="#1ba582" stroke-width="2.2" fill="none" opacity="0.52"/><path d="M266.2 245.1 L270.0 248.0 L265.5 245.4 L267.5 253.9 L264.4 251.8" stroke="#1ba582" stroke-width="2.0" fill="none" opacity="0.68"/><path d="M249.4 233.6 L245.1 236.8 L247.9 236.1 L242.9 234.2 L246.8 228.0" stroke="#1ba582" stroke-width="2.1" fill="none" opacity="0.59"/><path d="M228.5 234.1 L235.6 240.9 L237.9 234.6 L243.1 239.2" stroke="#1ba582" stroke-width="3.1" fill="none" opacity="0.68"/><path d="M288.0 156.2 L290.8 156.5 L288.2 153.0 L282.7 152.9 L280.6 151.3" stroke="#1ba582" stroke-width="3.3" fill="none" opacity="0.67"/><path d="M273.0 262.5 L273.2 254.4 L271.4 263.4 L264.8 268.5" stroke="#1ba582" stroke-width="3.3" fill="none" opacity="0.60"/><path d="M284.8 178.4 L282.4 178.5 L277.5 174.6" stroke="#1ba582" stroke-width="2.5" fill="none" opacity="0.80"/><path d="M238.5 145.5 L232.7 154.8 L238.4 157.7 L237.2 151.7 L230.9 143.8" stroke="#1ba582" stroke-width="2.5" fill="none" opacity="0.56"/><path d="M297.4 193.1 L305.2 197.5 L299.6 198.6 L294.1 189.4 L301.2 186.1" stroke="#1ba582" stroke-width="2.3" fill="none" opacity="0.44"/><path d="M270.2 181.5 L273.7 176.6 L278.1 176.4 L278.7 175.5" stroke="#1ba582" stroke-width="3.0" fill="none" opacity="0.80"/><path d="M284.8 120.7 L284.7 115.4 L278.3 109.3" stroke="#1ba582" stroke-width="2.4" fill="none" opacity="0.78"/><path d="M279.5 242.2 L276.5 240.0 L275.6 235.9" stroke="#1ba582" stroke-width="2.6" fill="none" opacity="0.71"/><path d="M212.6 152.9 L212.2 156.4 L214.6 160.9 L208.3 154.5 L205.2 150.1" stroke="#1ba582" stroke-width="3.1" fill="none" opacity="0.80"/><path d="M273.3 115.1 L278.2 123.6 L279.7 120.6" stroke="#1ba582" stroke-width="2.5" fill="none" opacity="0.65"/><path d="M291.4 162.8 L286.5 152.9 L280.7 159.9" stroke="#1ba582" stroke-width="2.9" fill="none" opacity="0.80"/><path d="M211.9 166.7 L214.5 158.1 L212.9 160.8" stroke="#1ba582" stroke-width="3.0" fill="none" opacity="0.58"/><path d="M251.7 221.2 L252.2 212.8 L248.0 204.1 L243.0 198.1 L241.7 194.5" stroke="#1ba582" stroke-width="2.5" fill="none" opacity="0.73"/><path d="M285.8 192.8 L282.1 193.6 L277.6 200.8 L282.8 197.2" stroke="#1ba582" stroke-width="2.0" fill="none" opacity="0.76"/><path d="M234.9 211.8 L240.6 217.8 L246.4 217.6 L251.9 216.8" stroke="#1ba582" stroke-width="2.4" fill="none" opacity="0.59"/><path d="M238.5 228.9 L232.8 222.2 L230.9 221.5 L238.2 230.3 L245.7 234.9" stroke="#1ba582" stroke-width="3.0" fill="none" opacity="0.51"/>
</g>


<defs>
<clipPath id="cs"><polygon points="461,88.6 588.4,89.6 619.5,119 619.8,252.5 588.4,286 451,286.8 423.5,252.5 424.5,115"/></clipPath>
<radialGradient id="gs" cx="0.5" cy="0.5" r="0.6">
<stop offset="0" stop-color="#8fd0bf"/><stop offset="0.4" stop-color="#6fd5b8"/><stop offset="0.8" stop-color="#45d4aa"/><stop offset="1" stop-color="#38d2a2"/>
</radialGradient>
</defs>
<g clip-path="url(#cs)">
<polygon points="461,88.6 588.4,89.6 619.5,119 619.8,252.5 588.4,286 451,286.8 423.5,252.5 424.5,115" fill="url(#gs)"/>
<polygon points="436,118 470,126 470,250 436,258" fill="#a8e2d2" opacity="0.75"/>
<polygon points="424,150 436,130 436,250 424,240" fill="#7fd8c0" opacity="0.5"/>
<polygon points="582,125 604,118 606,250 584,262" fill="#8edcc7" opacity="0.55"/>
<polygon points="494,118 541,118 532,150 517,150" fill="#1fbd8b" opacity="0.75"/>
<polygon points="540,118 600,112 585,148 545,148" fill="#3ad6a6" opacity="0.7"/>
<polygon points="498,146 530,168 567,146 568,228 530,214 498,228" fill="#9ccabc" opacity="0.9"/>
<polygon points="470,240 520,232 560,262 540,287 480,287" fill="#42cfa2" opacity="0.6"/>
<polygon points="556,232 600,240 610,270 570,280" fill="#30cc9a" opacity="0.6"/>
<rect x="497.0" y="89.5" width="3.1" height="1.8" fill="#35d3a5" opacity="0.39"/><rect x="485.9" y="153.0" width="1.2" height="1.7" fill="#c2eee3" opacity="0.75"/><rect x="591.6" y="213.5" width="2.5" height="1.7" fill="#35d3a5" opacity="0.74"/><rect x="573.1" y="190.6" width="1.7" height="2.1" fill="#9fe3d2" opacity="0.50"/><rect x="436.0" y="169.5" width="2.2" height="1.9" fill="#1fc08c" opacity="0.52"/><rect x="489.1" y="163.6" width="2.3" height="1.7" fill="#1fc08c" opacity="0.71"/><rect x="524.6" y="179.8" width="2.8" height="2.9" fill="#c2eee3" opacity="0.73"/><rect x="583.0" y="221.5" width="1.6" height="2.8" fill="#35d3a5" opacity="0.46"/><rect x="474.5" y="112.8" width="2.1" height="1.2" fill="#35d3a5" opacity="0.65"/><rect x="570.6" y="242.6" width="2.7" height="3.1" fill="#5fdcb8" opacity="0.37"/><rect x="461.9" y="142.0" width="2.3" height="1.6" fill="#1fc08c" opacity="0.59"/><rect x="491.4" y="218.7" width="2.8" height="1.8" fill="#9fe3d2" opacity="0.67"/><rect x="568.0" y="231.9" width="1.4" height="3.4" fill="#c2eee3" opacity="0.61"/><rect x="477.4" y="175.0" width="2.4" height="1.8" fill="#c2eee3" opacity="0.47"/><rect x="495.3" y="243.6" width="2.2" height="1.3" fill="#c2eee3" opacity="0.55"/><rect x="463.5" y="91.5" width="1.9" height="2.4" fill="#9fe3d2" opacity="0.51"/><rect x="434.5" y="267.4" width="3.4" height="1.6" fill="#9fe3d2" opacity="0.54"/><rect x="497.2" y="122.1" width="3.0" height="2.9" fill="#9fe3d2" opacity="0.65"/><rect x="427.4" y="134.5" width="2.4" height="2.8" fill="#c2eee3" opacity="0.52"/><rect x="512.1" y="255.5" width="1.8" height="1.9" fill="#1fc08c" opacity="0.80"/><rect x="468.6" y="98.3" width="2.2" height="2.7" fill="#1fc08c" opacity="0.42"/><rect x="588.6" y="127.9" width="1.6" height="3.2" fill="#35d3a5" opacity="0.44"/><rect x="567.3" y="255.1" width="1.8" height="1.4" fill="#35d3a5" opacity="0.61"/><rect x="521.8" y="183.9" width="2.3" height="2.3" fill="#16b582" opacity="0.57"/><rect x="513.1" y="169.3" width="1.6" height="1.9" fill="#35d3a5" opacity="0.47"/><rect x="472.6" y="244.0" width="1.7" height="2.4" fill="#1fc08c" opacity="0.49"/><rect x="471.1" y="162.9" width="2.4" height="2.8" fill="#1fc08c" opacity="0.79"/><rect x="591.1" y="174.1" width="2.2" height="1.7" fill="#35d3a5" opacity="0.78"/><rect x="437.5" y="129.6" width="2.7" height="2.6" fill="#5fdcb8" opacity="0.48"/><rect x="607.6" y="170.1" width="1.4" height="3.2" fill="#9fe3d2" opacity="0.40"/><rect x="501.2" y="264.3" width="3.4" height="3.3" fill="#c2eee3" opacity="0.72"/><rect x="469.7" y="95.3" width="1.3" height="3.4" fill="#35d3a5" opacity="0.35"/><rect x="487.8" y="129.3" width="1.2" height="2.3" fill="#5fdcb8" opacity="0.38"/><rect x="600.4" y="225.2" width="3.1" height="3.0" fill="#1fc08c" opacity="0.50"/><rect x="590.1" y="273.0" width="2.6" height="2.0" fill="#5fdcb8" opacity="0.76"/><rect x="608.8" y="157.8" width="3.2" height="2.7" fill="#9fe3d2" opacity="0.45"/><rect x="535.1" y="150.0" width="3.3" height="2.0" fill="#1fc08c" opacity="0.44"/><rect x="432.5" y="156.8" width="1.7" height="2.3" fill="#16b582" opacity="0.79"/><rect x="425.3" y="147.4" width="3.1" height="1.4" fill="#9fe3d2" opacity="0.77"/><rect x="587.6" y="117.3" width="2.5" height="2.8" fill="#35d3a5" opacity="0.49"/><rect x="499.3" y="136.7" width="1.9" height="1.6" fill="#c2eee3" opacity="0.76"/><rect x="597.9" y="160.3" width="2.3" height="1.8" fill="#5fdcb8" opacity="0.51"/><rect x="613.2" y="156.6" width="2.5" height="3.4" fill="#35d3a5" opacity="0.48"/><rect x="582.6" y="111.6" width="3.1" height="3.1" fill="#1fc08c" opacity="0.79"/><rect x="563.3" y="282.5" width="1.8" height="2.4" fill="#35d3a5" opacity="0.45"/><rect x="440.4" y="175.9" width="3.0" height="1.2" fill="#c2eee3" opacity="0.77"/><rect x="472.5" y="146.9" width="3.1" height="3.3" fill="#35d3a5" opacity="0.68"/><rect x="489.2" y="180.6" width="2.0" height="3.1" fill="#9fe3d2" opacity="0.70"/><rect x="515.9" y="266.5" width="2.1" height="2.9" fill="#9fe3d2" opacity="0.64"/><rect x="488.9" y="194.3" width="2.4" height="1.5" fill="#1fc08c" opacity="0.80"/><rect x="613.5" y="96.4" width="3.4" height="2.4" fill="#c2eee3" opacity="0.41"/><rect x="584.8" y="174.7" width="3.1" height="2.4" fill="#c2eee3" opacity="0.37"/><rect x="585.2" y="226.4" width="3.3" height="1.8" fill="#35d3a5" opacity="0.70"/><rect x="595.1" y="159.3" width="2.0" height="1.2" fill="#16b582" opacity="0.45"/><rect x="489.0" y="110.5" width="3.0" height="2.2" fill="#5fdcb8" opacity="0.61"/><rect x="479.8" y="160.3" width="2.3" height="2.6" fill="#16b582" opacity="0.54"/><rect x="533.2" y="266.7" width="1.8" height="2.4" fill="#35d3a5" opacity="0.66"/><rect x="441.0" y="279.5" width="1.8" height="2.9" fill="#16b582" opacity="0.72"/><rect x="547.6" y="270.4" width="1.4" height="2.4" fill="#5fdcb8" opacity="0.68"/><rect x="603.7" y="216.0" width="2.1" height="2.5" fill="#16b582" opacity="0.60"/><rect x="601.4" y="252.8" width="2.9" height="3.3" fill="#c2eee3" opacity="0.38"/><rect x="574.8" y="180.8" width="1.9" height="2.3" fill="#5fdcb8" opacity="0.72"/><rect x="430.9" y="146.6" width="2.3" height="3.2" fill="#35d3a5" opacity="0.47"/><rect x="585.3" y="137.4" width="2.5" height="2.7" fill="#1fc08c" opacity="0.75"/><rect x="596.4" y="138.5" width="2.9" height="2.7" fill="#16b582" opacity="0.52"/><rect x="576.1" y="266.7" width="3.3" height="1.5" fill="#16b582" opacity="0.42"/><rect x="573.8" y="149.5" width="2.5" height="2.3" fill="#5fdcb8" opacity="0.42"/><rect x="571.8" y="235.8" width="1.8" height="3.0" fill="#35d3a5" opacity="0.76"/><rect x="594.5" y="188.4" width="2.0" height="2.2" fill="#1fc08c" opacity="0.43"/><rect x="521.2" y="134.7" width="2.1" height="1.3" fill="#c2eee3" opacity="0.56"/><rect x="560.4" y="218.0" width="3.4" height="3.2" fill="#1fc08c" opacity="0.64"/><rect x="599.9" y="177.0" width="1.9" height="2.4" fill="#5fdcb8" opacity="0.79"/><rect x="541.4" y="189.3" width="3.0" height="1.9" fill="#35d3a5" opacity="0.72"/><rect x="427.6" y="136.2" width="1.8" height="3.4" fill="#9fe3d2" opacity="0.36"/><rect x="482.6" y="202.7" width="2.8" height="3.0" fill="#16b582" opacity="0.52"/><rect x="467.2" y="257.8" width="1.3" height="1.7" fill="#5fdcb8" opacity="0.57"/><rect x="608.7" y="233.3" width="2.5" height="2.4" fill="#1fc08c" opacity="0.66"/><rect x="546.8" y="155.6" width="1.7" height="3.0" fill="#16b582" opacity="0.64"/><rect x="580.2" y="97.8" width="3.3" height="2.1" fill="#1fc08c" opacity="0.77"/><rect x="540.5" y="197.4" width="2.6" height="2.8" fill="#1fc08c" opacity="0.42"/><rect x="542.5" y="159.6" width="1.4" height="1.5" fill="#35d3a5" opacity="0.57"/><rect x="475.5" y="240.5" width="1.2" height="3.5" fill="#5fdcb8" opacity="0.49"/><rect x="523.9" y="130.6" width="1.7" height="2.1" fill="#1fc08c" opacity="0.71"/><rect x="431.6" y="254.8" width="2.5" height="2.0" fill="#16b582" opacity="0.46"/><rect x="459.9" y="153.0" width="3.2" height="1.2" fill="#9fe3d2" opacity="0.70"/><rect x="554.8" y="92.8" width="2.9" height="2.7" fill="#1fc08c" opacity="0.49"/><rect x="592.8" y="130.6" width="2.2" height="1.5" fill="#1fc08c" opacity="0.64"/><rect x="441.1" y="124.5" width="2.4" height="2.7" fill="#16b582" opacity="0.68"/><rect x="542.9" y="128.2" width="2.8" height="1.5" fill="#35d3a5" opacity="0.47"/><rect x="511.8" y="111.7" width="2.7" height="2.9" fill="#c2eee3" opacity="0.52"/><rect x="500.4" y="130.1" width="2.4" height="2.5" fill="#1fc08c" opacity="0.77"/><rect x="432.0" y="268.9" width="2.0" height="2.9" fill="#16b582" opacity="0.72"/><rect x="551.6" y="146.2" width="2.6" height="3.2" fill="#9fe3d2" opacity="0.40"/><rect x="518.1" y="93.5" width="3.0" height="1.3" fill="#16b582" opacity="0.69"/><rect x="559.5" y="114.0" width="2.4" height="2.8" fill="#9fe3d2" opacity="0.50"/><rect x="522.8" y="282.2" width="2.4" height="1.4" fill="#16b582" opacity="0.40"/><rect x="590.8" y="236.0" width="3.1" height="2.5" fill="#c2eee3" opacity="0.61"/><rect x="528.0" y="234.5" width="2.3" height="2.3" fill="#16b582" opacity="0.65"/><rect x="466.4" y="94.0" width="1.4" height="1.6" fill="#16b582" opacity="0.74"/><rect x="564.5" y="237.5" width="1.4" height="2.3" fill="#35d3a5" opacity="0.74"/><rect x="523.8" y="214.1" width="2.1" height="1.5" fill="#5fdcb8" opacity="0.63"/><rect x="519.1" y="157.4" width="2.8" height="1.9" fill="#35d3a5" opacity="0.61"/><rect x="474.9" y="238.2" width="2.1" height="2.3" fill="#16b582" opacity="0.77"/><rect x="564.8" y="234.8" width="3.1" height="2.1" fill="#5fdcb8" opacity="0.79"/><rect x="599.6" y="219.5" width="3.1" height="2.5" fill="#5fdcb8" opacity="0.68"/><rect x="448.5" y="284.7" width="1.5" height="1.8" fill="#16b582" opacity="0.61"/><rect x="573.5" y="118.5" width="3.4" height="2.0" fill="#35d3a5" opacity="0.80"/><rect x="571.5" y="185.1" width="1.4" height="1.4" fill="#16b582" opacity="0.63"/><rect x="575.6" y="268.7" width="2.0" height="3.4" fill="#5fdcb8" opacity="0.48"/><rect x="608.2" y="270.9" width="3.2" height="2.8" fill="#16b582" opacity="0.67"/><rect x="588.7" y="195.3" width="2.4" height="2.0" fill="#1fc08c" opacity="0.74"/><rect x="600.6" y="120.8" width="1.8" height="1.6" fill="#35d3a5" opacity="0.44"/><rect x="536.4" y="144.4" width="1.8" height="1.4" fill="#35d3a5" opacity="0.50"/><rect x="575.7" y="93.3" width="2.6" height="1.3" fill="#9fe3d2" opacity="0.48"/><rect x="601.7" y="285.9" width="3.2" height="1.6" fill="#5fdcb8" opacity="0.69"/><rect x="512.4" y="122.8" width="3.3" height="3.2" fill="#9fe3d2" opacity="0.53"/><rect x="436.4" y="267.3" width="3.5" height="2.4" fill="#5fdcb8" opacity="0.45"/><rect x="530.6" y="226.9" width="2.0" height="1.8" fill="#c2eee3" opacity="0.48"/><rect x="433.8" y="139.5" width="3.4" height="1.2" fill="#5fdcb8" opacity="0.68"/><rect x="578.6" y="169.1" width="1.7" height="2.7" fill="#16b582" opacity="0.67"/><rect x="568.0" y="186.4" width="3.4" height="3.2" fill="#c2eee3" opacity="0.61"/><rect x="557.7" y="143.4" width="2.7" height="3.3" fill="#16b582" opacity="0.48"/><rect x="616.5" y="109.9" width="2.4" height="1.5" fill="#9fe3d2" opacity="0.44"/><rect x="573.8" y="102.1" width="1.6" height="3.2" fill="#35d3a5" opacity="0.39"/><rect x="490.0" y="258.5" width="2.8" height="2.8" fill="#5fdcb8" opacity="0.80"/><rect x="428.6" y="220.6" width="2.9" height="2.8" fill="#5fdcb8" opacity="0.38"/><rect x="440.5" y="242.0" width="2.6" height="1.8" fill="#35d3a5" opacity="0.35"/><rect x="528.6" y="106.9" width="2.0" height="3.1" fill="#35d3a5" opacity="0.39"/><rect x="520.8" y="108.8" width="3.0" height="2.5" fill="#35d3a5" opacity="0.46"/><rect x="612.7" y="224.0" width="3.2" height="2.1" fill="#5fdcb8" opacity="0.77"/><rect x="482.2" y="283.9" width="1.3" height="2.9" fill="#5fdcb8" opacity="0.48"/><rect x="507.1" y="215.0" width="1.7" height="1.4" fill="#5fdcb8" opacity="0.68"/><rect x="467.4" y="187.7" width="2.0" height="1.7" fill="#1fc08c" opacity="0.77"/><rect x="523.5" y="217.8" width="3.1" height="1.8" fill="#c2eee3" opacity="0.39"/><rect x="515.6" y="122.7" width="1.2" height="3.3" fill="#35d3a5" opacity="0.63"/><rect x="505.2" y="116.0" width="2.4" height="1.6" fill="#35d3a5" opacity="0.79"/><rect x="610.4" y="272.6" width="3.1" height="2.4" fill="#35d3a5" opacity="0.49"/><rect x="551.7" y="119.0" width="1.4" height="1.2" fill="#c2eee3" opacity="0.67"/><rect x="491.2" y="227.1" width="3.0" height="3.1" fill="#c2eee3" opacity="0.63"/><rect x="590.0" y="219.5" width="3.3" height="1.3" fill="#9fe3d2" opacity="0.47"/><rect x="500.2" y="138.9" width="1.6" height="3.2" fill="#9fe3d2" opacity="0.36"/><rect x="459.6" y="239.5" width="1.8" height="3.4" fill="#35d3a5" opacity="0.69"/><rect x="511.9" y="116.0" width="1.8" height="3.5" fill="#16b582" opacity="0.71"/><rect x="437.7" y="229.0" width="2.9" height="1.9" fill="#16b582" opacity="0.41"/><rect x="427.9" y="147.5" width="3.2" height="3.2" fill="#5fdcb8" opacity="0.66"/><rect x="570.6" y="127.5" width="3.3" height="3.5" fill="#9fe3d2" opacity="0.55"/><rect x="576.1" y="273.8" width="3.5" height="1.9" fill="#5fdcb8" opacity="0.64"/><rect x="500.4" y="181.1" width="1.8" height="1.2" fill="#16b582" opacity="0.69"/><rect x="560.4" y="255.4" width="1.6" height="1.7" fill="#5fdcb8" opacity="0.62"/><rect x="607.6" y="182.4" width="2.6" height="3.4" fill="#35d3a5" opacity="0.74"/><rect x="600.2" y="170.3" width="1.8" height="3.2" fill="#16b582" opacity="0.70"/><rect x="590.9" y="166.5" width="1.8" height="3.2" fill="#1fc08c" opacity="0.76"/><rect x="496.0" y="262.2" width="2.1" height="2.2" fill="#16b582" opacity="0.60"/><rect x="467.4" y="142.0" width="1.8" height="2.4" fill="#1fc08c" opacity="0.40"/><rect x="577.0" y="123.6" width="2.2" height="2.7" fill="#16b582" opacity="0.41"/><rect x="504.2" y="200.5" width="3.3" height="3.0" fill="#9fe3d2" opacity="0.40"/><rect x="587.3" y="197.9" width="2.8" height="1.6" fill="#c2eee3" opacity="0.56"/><rect x="561.2" y="246.9" width="1.7" height="3.1" fill="#16b582" opacity="0.61"/><rect x="555.1" y="257.6" width="2.1" height="3.3" fill="#35d3a5" opacity="0.75"/><rect x="582.3" y="164.2" width="1.6" height="2.9" fill="#c2eee3" opacity="0.75"/><rect x="455.5" y="236.5" width="2.8" height="1.3" fill="#c2eee3" opacity="0.76"/><rect x="517.9" y="142.3" width="3.0" height="2.0" fill="#5fdcb8" opacity="0.58"/><rect x="462.2" y="209.2" width="2.1" height="3.1" fill="#1fc08c" opacity="0.65"/><rect x="565.5" y="138.7" width="3.2" height="3.4" fill="#5fdcb8" opacity="0.64"/><rect x="604.7" y="228.8" width="2.6" height="2.2" fill="#1fc08c" opacity="0.51"/><rect x="520.0" y="133.0" width="2.4" height="1.3" fill="#c2eee3" opacity="0.53"/><rect x="479.8" y="214.6" width="3.1" height="2.6" fill="#5fdcb8" opacity="0.65"/><rect x="544.3" y="139.7" width="3.1" height="3.4" fill="#35d3a5" opacity="0.43"/><rect x="426.1" y="279.4" width="3.2" height="2.6" fill="#5fdcb8" opacity="0.72"/><rect x="540.5" y="268.2" width="2.2" height="2.7" fill="#5fdcb8" opacity="0.45"/><rect x="564.1" y="141.0" width="2.8" height="3.0" fill="#16b582" opacity="0.54"/><rect x="618.1" y="214.0" width="1.2" height="1.5" fill="#5fdcb8" opacity="0.67"/><rect x="608.9" y="213.4" width="3.3" height="1.3" fill="#35d3a5" opacity="0.75"/><rect x="596.0" y="213.5" width="2.8" height="1.8" fill="#1fc08c" opacity="0.65"/><rect x="560.1" y="195.9" width="1.8" height="1.2" fill="#5fdcb8" opacity="0.44"/><rect x="587.4" y="131.0" width="1.8" height="2.4" fill="#9fe3d2" opacity="0.61"/><rect x="595.9" y="258.2" width="3.4" height="3.2" fill="#1fc08c" opacity="0.55"/><rect x="451.8" y="278.2" width="2.6" height="1.8" fill="#35d3a5" opacity="0.72"/><rect x="463.4" y="172.3" width="1.7" height="3.2" fill="#16b582" opacity="0.63"/><rect x="547.6" y="151.3" width="3.2" height="3.0" fill="#c2eee3" opacity="0.68"/><rect x="619.4" y="199.8" width="1.6" height="2.6" fill="#16b582" opacity="0.48"/><rect x="524.5" y="179.9" width="3.3" height="3.1" fill="#35d3a5" opacity="0.54"/><rect x="584.2" y="259.4" width="3.0" height="2.5" fill="#c2eee3" opacity="0.75"/><rect x="520.4" y="110.0" width="2.7" height="2.1" fill="#1fc08c" opacity="0.54"/><rect x="502.8" y="127.0" width="1.4" height="1.3" fill="#16b582" opacity="0.65"/><rect x="487.5" y="179.5" width="2.6" height="3.1" fill="#35d3a5" opacity="0.69"/><rect x="610.9" y="102.2" width="2.1" height="3.4" fill="#9fe3d2" opacity="0.56"/><rect x="609.8" y="125.6" width="3.3" height="2.1" fill="#1fc08c" opacity="0.58"/><rect x="607.5" y="132.4" width="3.4" height="2.1" fill="#1fc08c" opacity="0.46"/><rect x="469.8" y="191.7" width="3.2" height="1.3" fill="#c2eee3" opacity="0.37"/><rect x="453.9" y="208.9" width="3.0" height="2.3" fill="#5fdcb8" opacity="0.63"/><rect x="549.9" y="92.8" width="3.5" height="2.0" fill="#16b582" opacity="0.78"/><rect x="520.5" y="133.1" width="1.2" height="1.7" fill="#16b582" opacity="0.49"/><rect x="510.1" y="177.5" width="2.3" height="1.3" fill="#35d3a5" opacity="0.47"/><rect x="612.6" y="94.4" width="2.9" height="2.3" fill="#c2eee3" opacity="0.67"/><rect x="489.2" y="162.3" width="3.3" height="2.0" fill="#c2eee3" opacity="0.39"/><rect x="431.5" y="263.6" width="1.9" height="1.5" fill="#c2eee3" opacity="0.62"/><rect x="589.6" y="207.7" width="2.1" height="1.8" fill="#35d3a5" opacity="0.36"/><rect x="613.3" y="179.9" width="1.5" height="3.2" fill="#1fc08c" opacity="0.79"/><rect x="583.9" y="139.2" width="2.4" height="2.5" fill="#35d3a5" opacity="0.75"/><rect x="613.6" y="269.3" width="2.0" height="2.5" fill="#16b582" opacity="0.41"/><rect x="525.7" y="103.0" width="1.5" height="1.9" fill="#5fdcb8" opacity="0.49"/><rect x="562.2" y="104.1" width="1.5" height="2.7" fill="#1fc08c" opacity="0.65"/><rect x="563.2" y="231.6" width="2.5" height="2.9" fill="#5fdcb8" opacity="0.39"/><rect x="465.5" y="235.8" width="1.6" height="2.4" fill="#c2eee3" opacity="0.47"/><rect x="508.5" y="254.2" width="2.2" height="1.8" fill="#16b582" opacity="0.71"/><rect x="552.8" y="176.1" width="3.2" height="2.8" fill="#c2eee3" opacity="0.79"/><rect x="554.2" y="267.2" width="2.8" height="3.1" fill="#1fc08c" opacity="0.39"/><rect x="516.9" y="208.9" width="1.3" height="3.0" fill="#c2eee3" opacity="0.67"/><rect x="607.5" y="162.7" width="3.3" height="2.1" fill="#9fe3d2" opacity="0.73"/><rect x="506.6" y="155.9" width="1.8" height="1.7" fill="#5fdcb8" opacity="0.54"/><rect x="455.7" y="252.9" width="1.4" height="1.3" fill="#16b582" opacity="0.35"/><rect x="606.7" y="103.6" width="2.8" height="1.9" fill="#9fe3d2" opacity="0.44"/><rect x="472.3" y="225.6" width="3.2" height="2.5" fill="#1fc08c" opacity="0.46"/><rect x="464.8" y="218.6" width="2.6" height="1.9" fill="#1fc08c" opacity="0.50"/><rect x="514.8" y="269.3" width="3.1" height="2.7" fill="#16b582" opacity="0.60"/><rect x="520.0" y="223.8" width="2.3" height="2.9" fill="#c2eee3" opacity="0.43"/><rect x="487.2" y="261.9" width="3.1" height="3.4" fill="#35d3a5" opacity="0.61"/><rect x="444.0" y="238.9" width="2.7" height="1.9" fill="#5fdcb8" opacity="0.74"/><rect x="518.6" y="100.3" width="1.7" height="2.6" fill="#35d3a5" opacity="0.72"/><rect x="443.4" y="93.4" width="2.6" height="2.1" fill="#1fc08c" opacity="0.55"/><rect x="584.9" y="271.0" width="3.0" height="1.2" fill="#5fdcb8" opacity="0.42"/><rect x="539.1" y="278.1" width="1.4" height="2.4" fill="#9fe3d2" opacity="0.53"/><rect x="503.7" y="142.2" width="1.7" height="1.4" fill="#5fdcb8" opacity="0.60"/><rect x="511.4" y="230.2" width="2.7" height="3.4" fill="#16b582" opacity="0.50"/><rect x="597.0" y="165.2" width="3.1" height="2.1" fill="#16b582" opacity="0.55"/><rect x="547.7" y="110.9" width="2.4" height="1.4" fill="#c2eee3" opacity="0.45"/><rect x="546.1" y="281.5" width="1.8" height="1.5" fill="#1fc08c" opacity="0.58"/><rect x="510.5" y="164.1" width="3.0" height="2.8" fill="#9fe3d2" opacity="0.60"/><rect x="545.8" y="204.2" width="3.3" height="3.4" fill="#c2eee3" opacity="0.79"/><rect x="592.5" y="109.7" width="2.2" height="3.0" fill="#35d3a5" opacity="0.48"/><rect x="542.9" y="99.9" width="2.1" height="1.4" fill="#c2eee3" opacity="0.54"/><rect x="469.1" y="259.6" width="1.9" height="2.1" fill="#16b582" opacity="0.71"/><rect x="533.7" y="98.9" width="2.6" height="1.7" fill="#16b582" opacity="0.46"/><rect x="546.1" y="186.9" width="1.8" height="2.5" fill="#16b582" opacity="0.64"/><rect x="431.7" y="143.2" width="3.2" height="1.3" fill="#1fc08c" opacity="0.51"/><rect x="462.1" y="226.6" width="3.1" height="1.3" fill="#16b582" opacity="0.74"/><rect x="560.4" y="132.0" width="1.9" height="3.0" fill="#35d3a5" opacity="0.38"/><rect x="513.4" y="189.1" width="3.3" height="3.1" fill="#9fe3d2" opacity="0.60"/><rect x="434.1" y="174.1" width="3.5" height="2.8" fill="#5fdcb8" opacity="0.53"/><rect x="495.5" y="241.0" width="1.4" height="3.1" fill="#5fdcb8" opacity="0.65"/><rect x="509.3" y="229.6" width="1.5" height="2.2" fill="#c2eee3" opacity="0.37"/><rect x="441.1" y="175.9" width="3.1" height="1.7" fill="#5fdcb8" opacity="0.58"/><rect x="615.9" y="252.8" width="2.8" height="2.6" fill="#35d3a5" opacity="0.61"/><rect x="541.8" y="181.1" width="2.0" height="1.7" fill="#9fe3d2" opacity="0.38"/><rect x="496.4" y="241.4" width="1.6" height="3.1" fill="#c2eee3" opacity="0.37"/><rect x="606.5" y="218.1" width="2.5" height="2.1" fill="#c2eee3" opacity="0.72"/><rect x="425.3" y="92.2" width="1.9" height="2.1" fill="#c2eee3" opacity="0.59"/><rect x="432.6" y="283.6" width="2.8" height="1.4" fill="#c2eee3" opacity="0.68"/><rect x="528.4" y="225.0" width="3.5" height="1.5" fill="#5fdcb8" opacity="0.80"/><rect x="517.5" y="128.8" width="2.1" height="2.0" fill="#35d3a5" opacity="0.75"/><rect x="526.8" y="102.2" width="2.3" height="3.1" fill="#5fdcb8" opacity="0.37"/><rect x="593.5" y="265.8" width="1.2" height="2.3" fill="#35d3a5" opacity="0.40"/><rect x="527.8" y="106.7" width="1.6" height="2.7" fill="#c2eee3" opacity="0.64"/><rect x="486.9" y="131.5" width="3.3" height="1.3" fill="#9fe3d2" opacity="0.46"/><rect x="488.0" y="204.7" width="1.5" height="2.5" fill="#5fdcb8" opacity="0.68"/><rect x="562.1" y="185.9" width="1.9" height="1.2" fill="#5fdcb8" opacity="0.59"/><rect x="547.2" y="176.4" width="1.7" height="3.1" fill="#5fdcb8" opacity="0.67"/><rect x="600.3" y="272.1" width="1.7" height="3.3" fill="#9fe3d2" opacity="0.53"/><rect x="557.1" y="277.7" width="2.5" height="1.4" fill="#35d3a5" opacity="0.62"/><rect x="471.3" y="165.9" width="2.1" height="3.4" fill="#c2eee3" opacity="0.64"/><rect x="566.1" y="123.2" width="3.2" height="1.5" fill="#1fc08c" opacity="0.78"/><rect x="507.8" y="166.2" width="2.4" height="2.2" fill="#16b582" opacity="0.56"/><rect x="507.1" y="227.9" width="1.6" height="2.2" fill="#9fe3d2" opacity="0.39"/><rect x="511.7" y="186.9" width="3.0" height="1.5" fill="#16b582" opacity="0.53"/><rect x="577.0" y="156.0" width="2.9" height="1.3" fill="#9fe3d2" opacity="0.52"/><rect x="574.2" y="193.3" width="2.7" height="3.5" fill="#9fe3d2" opacity="0.65"/><rect x="531.0" y="256.5" width="1.2" height="1.8" fill="#5fdcb8" opacity="0.62"/><rect x="609.9" y="209.2" width="1.9" height="3.5" fill="#5fdcb8" opacity="0.53"/><rect x="468.6" y="198.5" width="1.5" height="2.8" fill="#16b582" opacity="0.66"/><rect x="614.5" y="116.1" width="3.3" height="3.0" fill="#5fdcb8" opacity="0.46"/><rect x="517.9" y="213.8" width="1.4" height="3.1" fill="#c2eee3" opacity="0.42"/><rect x="520.2" y="175.7" width="3.3" height="2.5" fill="#16b582" opacity="0.54"/><rect x="615.5" y="158.8" width="1.7" height="2.9" fill="#5fdcb8" opacity="0.69"/><rect x="586.3" y="185.0" width="1.7" height="2.7" fill="#35d3a5" opacity="0.76"/><rect x="484.7" y="93.0" width="3.3" height="1.2" fill="#5fdcb8" opacity="0.37"/><rect x="443.3" y="265.6" width="2.1" height="2.8" fill="#16b582" opacity="0.67"/><rect x="509.1" y="234.0" width="2.4" height="1.9" fill="#9fe3d2" opacity="0.35"/><rect x="540.3" y="141.6" width="1.8" height="3.2" fill="#5fdcb8" opacity="0.51"/><rect x="444.1" y="213.8" width="1.3" height="2.0" fill="#1fc08c" opacity="0.63"/><rect x="478.8" y="284.3" width="3.0" height="2.4" fill="#c2eee3" opacity="0.76"/><rect x="430.8" y="133.5" width="2.4" height="1.6" fill="#9fe3d2" opacity="0.61"/><rect x="567.1" y="208.5" width="1.3" height="1.3" fill="#9fe3d2" opacity="0.53"/><rect x="427.2" y="105.6" width="2.2" height="1.4" fill="#9fe3d2" opacity="0.74"/><rect x="496.2" y="263.9" width="2.6" height="2.6" fill="#c2eee3" opacity="0.54"/><rect x="555.7" y="137.2" width="3.2" height="1.7" fill="#c2eee3" opacity="0.52"/><rect x="570.0" y="154.3" width="2.0" height="3.3" fill="#16b582" opacity="0.44"/><rect x="471.3" y="264.6" width="2.0" height="3.2" fill="#9fe3d2" opacity="0.49"/><rect x="619.4" y="251.6" width="3.1" height="1.7" fill="#16b582" opacity="0.45"/><rect x="571.5" y="252.7" width="1.7" height="1.8" fill="#c2eee3" opacity="0.41"/><rect x="506.6" y="188.6" width="2.6" height="1.3" fill="#16b582" opacity="0.44"/><rect x="446.9" y="142.5" width="3.4" height="2.1" fill="#35d3a5" opacity="0.41"/><rect x="554.6" y="281.6" width="3.0" height="2.7" fill="#16b582" opacity="0.52"/><rect x="503.0" y="148.8" width="3.0" height="2.3" fill="#16b582" opacity="0.74"/><rect x="551.8" y="224.7" width="1.8" height="1.8" fill="#35d3a5" opacity="0.45"/><rect x="602.9" y="247.4" width="3.1" height="3.1" fill="#5fdcb8" opacity="0.55"/><rect x="574.1" y="122.0" width="2.7" height="1.3" fill="#9fe3d2" opacity="0.78"/><rect x="596.4" y="121.7" width="3.1" height="1.3" fill="#1fc08c" opacity="0.60"/><rect x="506.3" y="211.5" width="3.2" height="2.9" fill="#35d3a5" opacity="0.45"/><rect x="532.7" y="200.2" width="1.5" height="2.0" fill="#35d3a5" opacity="0.43"/><rect x="470.5" y="222.9" width="3.4" height="2.3" fill="#1fc08c" opacity="0.64"/><rect x="573.2" y="222.2" width="1.2" height="3.2" fill="#9fe3d2" opacity="0.42"/><rect x="459.4" y="189.9" width="2.5" height="2.9" fill="#c2eee3" opacity="0.48"/><rect x="609.3" y="213.4" width="2.3" height="1.4" fill="#5fdcb8" opacity="0.36"/><rect x="549.5" y="173.4" width="2.2" height="1.9" fill="#9fe3d2" opacity="0.43"/><rect x="516.8" y="139.4" width="1.6" height="3.4" fill="#9fe3d2" opacity="0.74"/><rect x="499.2" y="242.0" width="2.5" height="2.3" fill="#9fe3d2" opacity="0.72"/><rect x="586.8" y="128.9" width="1.3" height="1.2" fill="#35d3a5" opacity="0.57"/><rect x="483.1" y="172.7" width="2.3" height="2.3" fill="#9fe3d2" opacity="0.76"/><rect x="604.0" y="157.5" width="2.7" height="1.7" fill="#35d3a5" opacity="0.53"/><rect x="564.7" y="90.1" width="3.0" height="2.9" fill="#16b582" opacity="0.52"/><rect x="472.6" y="195.9" width="3.1" height="2.6" fill="#16b582" opacity="0.49"/><rect x="582.3" y="209.3" width="1.5" height="2.2" fill="#16b582" opacity="0.57"/><rect x="609.2" y="152.5" width="3.4" height="2.2" fill="#35d3a5" opacity="0.72"/><rect x="443.0" y="167.0" width="1.6" height="3.2" fill="#5fdcb8" opacity="0.60"/><rect x="466.8" y="107.3" width="1.4" height="2.3" fill="#1fc08c" opacity="0.68"/><rect x="484.8" y="122.2" width="2.0" height="1.6" fill="#5fdcb8" opacity="0.73"/><rect x="442.8" y="235.7" width="2.9" height="3.0" fill="#16b582" opacity="0.41"/><rect x="572.3" y="276.2" width="2.5" height="2.7" fill="#5fdcb8" opacity="0.50"/><rect x="458.2" y="236.4" width="1.7" height="1.5" fill="#35d3a5" opacity="0.51"/><rect x="546.7" y="161.3" width="3.4" height="3.0" fill="#35d3a5" opacity="0.76"/><rect x="541.5" y="238.6" width="1.3" height="2.5" fill="#35d3a5" opacity="0.43"/><rect x="579.8" y="135.1" width="2.9" height="2.0" fill="#9fe3d2" opacity="0.64"/><rect x="557.1" y="268.9" width="2.2" height="2.8" fill="#16b582" opacity="0.43"/><rect x="443.2" y="230.4" width="3.3" height="2.9" fill="#9fe3d2" opacity="0.58"/><rect x="547.4" y="233.6" width="2.0" height="3.2" fill="#35d3a5" opacity="0.52"/><rect x="601.1" y="247.3" width="3.0" height="3.1" fill="#c2eee3" opacity="0.79"/><rect x="618.0" y="188.3" width="2.9" height="3.4" fill="#16b582" opacity="0.63"/><rect x="429.0" y="96.6" width="2.3" height="3.0" fill="#5fdcb8" opacity="0.75"/><rect x="497.5" y="191.4" width="1.4" height="1.2" fill="#9fe3d2" opacity="0.59"/><rect x="522.8" y="260.0" width="1.6" height="3.2" fill="#c2eee3" opacity="0.47"/><rect x="529.7" y="229.0" width="3.4" height="3.4" fill="#9fe3d2" opacity="0.79"/><rect x="424.4" y="216.4" width="2.7" height="3.2" fill="#1fc08c" opacity="0.44"/><rect x="448.3" y="249.3" width="1.4" height="1.4" fill="#16b582" opacity="0.64"/><rect x="529.0" y="237.1" width="3.1" height="1.2" fill="#16b582" opacity="0.77"/><rect x="596.4" y="273.7" width="2.1" height="1.8" fill="#16b582" opacity="0.76"/><rect x="506.4" y="185.6" width="2.8" height="2.8" fill="#35d3a5" opacity="0.66"/><rect x="546.2" y="189.7" width="2.1" height="1.8" fill="#c2eee3" opacity="0.76"/><rect x="589.8" y="231.2" width="1.6" height="1.3" fill="#35d3a5" opacity="0.77"/><rect x="608.8" y="142.9" width="1.2" height="2.1" fill="#9fe3d2" opacity="0.67"/><rect x="494.8" y="248.8" width="3.3" height="1.5" fill="#c2eee3" opacity="0.66"/><rect x="497.7" y="123.5" width="2.3" height="3.3" fill="#9fe3d2" opacity="0.69"/><rect x="425.0" y="100.2" width="3.5" height="2.5" fill="#5fdcb8" opacity="0.62"/><rect x="493.1" y="253.6" width="2.6" height="1.8" fill="#9fe3d2" opacity="0.70"/><rect x="466.0" y="116.2" width="2.6" height="3.1" fill="#c2eee3" opacity="0.48"/><rect x="483.2" y="118.6" width="3.0" height="1.5" fill="#35d3a5" opacity="0.59"/><rect x="529.8" y="110.1" width="2.4" height="1.8" fill="#c2eee3" opacity="0.44"/><rect x="617.2" y="106.9" width="2.6" height="2.1" fill="#35d3a5" opacity="0.36"/><rect x="593.8" y="136.4" width="2.1" height="3.3" fill="#5fdcb8" opacity="0.79"/><rect x="603.3" y="170.4" width="3.2" height="1.7" fill="#1fc08c" opacity="0.79"/><rect x="443.9" y="219.2" width="1.7" height="1.7" fill="#35d3a5" opacity="0.41"/><rect x="608.7" y="114.4" width="1.6" height="2.0" fill="#16b582" opacity="0.45"/><rect x="617.6" y="107.4" width="3.2" height="1.9" fill="#9fe3d2" opacity="0.78"/><rect x="571.1" y="141.2" width="1.6" height="2.1" fill="#9fe3d2" opacity="0.36"/><rect x="557.6" y="206.5" width="1.8" height="1.2" fill="#c2eee3" opacity="0.77"/><rect x="448.5" y="153.9" width="2.1" height="2.1" fill="#1fc08c" opacity="0.59"/><rect x="487.4" y="138.5" width="3.0" height="1.8" fill="#1fc08c" opacity="0.50"/><rect x="520.3" y="143.2" width="1.4" height="1.9" fill="#c2eee3" opacity="0.54"/><rect x="474.6" y="255.3" width="2.0" height="2.2" fill="#35d3a5" opacity="0.56"/><rect x="586.7" y="132.3" width="3.4" height="1.8" fill="#5fdcb8" opacity="0.43"/><rect x="578.6" y="150.9" width="1.7" height="1.4" fill="#35d3a5" opacity="0.63"/><rect x="607.6" y="263.5" width="2.2" height="3.4" fill="#9fe3d2" opacity="0.65"/><rect x="611.4" y="225.3" width="2.8" height="2.8" fill="#c2eee3" opacity="0.41"/><rect x="473.5" y="102.0" width="3.5" height="2.6" fill="#c2eee3" opacity="0.42"/><rect x="448.4" y="177.3" width="2.1" height="1.7" fill="#9fe3d2" opacity="0.39"/><rect x="550.9" y="245.9" width="1.9" height="1.9" fill="#c2eee3" opacity="0.59"/><rect x="542.5" y="170.3" width="3.2" height="2.1" fill="#1fc08c" opacity="0.49"/><rect x="574.3" y="255.7" width="1.6" height="1.7" fill="#c2eee3" opacity="0.56"/><rect x="613.6" y="211.8" width="2.6" height="2.0" fill="#9fe3d2" opacity="0.80"/><rect x="459.8" y="199.7" width="3.1" height="3.1" fill="#1fc08c" opacity="0.52"/><rect x="477.1" y="283.0" width="2.5" height="1.8" fill="#35d3a5" opacity="0.41"/><rect x="581.4" y="257.0" width="2.1" height="2.7" fill="#5fdcb8" opacity="0.79"/><rect x="537.4" y="244.8" width="3.2" height="2.9" fill="#c2eee3" opacity="0.57"/><rect x="458.9" y="226.9" width="3.4" height="1.6" fill="#5fdcb8" opacity="0.40"/><rect x="548.7" y="252.8" width="1.4" height="2.6" fill="#35d3a5" opacity="0.47"/><rect x="619.8" y="160.6" width="3.0" height="1.9" fill="#9fe3d2" opacity="0.54"/><rect x="449.6" y="154.5" width="1.5" height="1.8" fill="#1fc08c" opacity="0.61"/><rect x="482.6" y="221.2" width="2.5" height="1.3" fill="#5fdcb8" opacity="0.78"/><rect x="462.8" y="157.5" width="2.4" height="2.6" fill="#9fe3d2" opacity="0.50"/><rect x="510.3" y="213.1" width="1.9" height="2.1" fill="#5fdcb8" opacity="0.52"/><rect x="481.2" y="207.9" width="2.4" height="2.1" fill="#5fdcb8" opacity="0.67"/><rect x="583.3" y="217.5" width="3.4" height="1.4" fill="#16b582" opacity="0.71"/><rect x="506.6" y="167.6" width="3.1" height="2.7" fill="#5fdcb8" opacity="0.79"/><rect x="596.1" y="112.0" width="3.0" height="1.4" fill="#5fdcb8" opacity="0.59"/><rect x="618.6" y="136.3" width="1.5" height="1.9" fill="#c2eee3" opacity="0.50"/><rect x="480.0" y="174.6" width="2.4" height="2.6" fill="#1fc08c" opacity="0.40"/><rect x="436.7" y="277.3" width="2.0" height="3.4" fill="#9fe3d2" opacity="0.50"/><rect x="549.4" y="220.0" width="1.4" height="2.2" fill="#9fe3d2" opacity="0.41"/><rect x="482.0" y="127.8" width="1.9" height="2.2" fill="#1fc08c" opacity="0.49"/><rect x="489.7" y="185.2" width="1.3" height="3.5" fill="#c2eee3" opacity="0.54"/><rect x="604.9" y="90.4" width="1.3" height="1.4" fill="#35d3a5" opacity="0.76"/><rect x="504.8" y="256.6" width="1.4" height="2.0" fill="#5fdcb8" opacity="0.50"/><rect x="512.8" y="238.3" width="1.4" height="3.3" fill="#35d3a5" opacity="0.56"/><rect x="495.7" y="227.1" width="2.8" height="2.2" fill="#9fe3d2" opacity="0.57"/><rect x="461.1" y="129.2" width="3.2" height="2.5" fill="#16b582" opacity="0.54"/><rect x="575.9" y="269.6" width="3.5" height="1.2" fill="#1fc08c" opacity="0.63"/><rect x="475.7" y="138.9" width="2.3" height="2.6" fill="#1fc08c" opacity="0.55"/><rect x="563.9" y="277.2" width="1.7" height="2.6" fill="#c2eee3" opacity="0.53"/><rect x="485.8" y="188.9" width="2.8" height="3.3" fill="#16b582" opacity="0.77"/><rect x="584.6" y="157.6" width="2.8" height="1.6" fill="#16b582" opacity="0.78"/><rect x="472.5" y="224.1" width="2.8" height="3.3" fill="#9fe3d2" opacity="0.65"/><rect x="616.7" y="100.8" width="1.6" height="2.5" fill="#35d3a5" opacity="0.54"/><rect x="440.2" y="129.0" width="2.5" height="2.1" fill="#1fc08c" opacity="0.69"/><rect x="515.5" y="262.8" width="2.3" height="2.0" fill="#5fdcb8" opacity="0.45"/><rect x="481.2" y="159.3" width="2.0" height="1.6" fill="#35d3a5" opacity="0.56"/><rect x="445.9" y="261.0" width="1.4" height="2.0" fill="#5fdcb8" opacity="0.46"/><rect x="454.6" y="184.2" width="1.6" height="1.5" fill="#c2eee3" opacity="0.67"/><rect x="508.2" y="222.1" width="2.4" height="1.9" fill="#5fdcb8" opacity="0.54"/><rect x="518.3" y="156.8" width="3.1" height="1.8" fill="#5fdcb8" opacity="0.45"/><rect x="491.5" y="244.5" width="2.5" height="2.0" fill="#c2eee3" opacity="0.64"/><rect x="586.0" y="137.1" width="2.7" height="2.8" fill="#9fe3d2" opacity="0.53"/><rect x="452.4" y="209.3" width="2.0" height="2.5" fill="#16b582" opacity="0.78"/><rect x="452.7" y="103.6" width="2.4" height="3.4" fill="#16b582" opacity="0.37"/><rect x="549.9" y="94.4" width="1.5" height="2.7" fill="#35d3a5" opacity="0.51"/><rect x="552.3" y="140.1" width="1.4" height="1.6" fill="#c2eee3" opacity="0.47"/><rect x="456.3" y="128.3" width="2.2" height="3.1" fill="#9fe3d2" opacity="0.57"/><rect x="529.7" y="229.6" width="3.2" height="2.5" fill="#c2eee3" opacity="0.37"/><rect x="514.0" y="95.4" width="1.3" height="2.4" fill="#9fe3d2" opacity="0.42"/><rect x="591.7" y="107.7" width="2.7" height="2.8" fill="#c2eee3" opacity="0.47"/><rect x="540.2" y="154.3" width="1.8" height="1.2" fill="#1fc08c" opacity="0.65"/>
</g>

<g font-weight="bold" font-size="39.5">
<text x="162.0" y="359.2" fill="#000">Untreated</text>
<text x="435.8" y="342.2" fill="#ff0000">Opticon</text>
<text x="427.5" y="389.7" fill="#ff0000">hardened</text>
</g>
<g font-weight="bold" font-size="45" fill="#404040"><text x="1719.2" y="96.2">a.</text><text x="1808.5" y="96.2">3166</text><text x="1923.7" y="96.2">cm</text><text x="1990.6" y="82.2" font-size="30">−</text><text x="2010.2" y="82.2" font-size="30">1</text><text x="1719.2" y="152.1">b.</text><text x="1808.5" y="152.1">3108</text><text x="1923.7" y="152.1">cm</text><text x="1990.6" y="138.1" font-size="30">−</text><text x="2010.2" y="138.1" font-size="30">1</text><text x="1719.2" y="207.9">c.</text><text x="1808.5" y="207.9">2962</text><text x="1923.7" y="207.9">cm</text><text x="1990.6" y="193.9" font-size="30">−</text><text x="2010.2" y="193.9" font-size="30">1</text><text x="1719.2" y="263.8">d.</text><text x="1808.5" y="263.8">2927</text><text x="1923.7" y="263.8">cm</text><text x="1990.6" y="249.8" font-size="30">−</text><text x="2010.2" y="249.8" font-size="30">1</text><text x="1719.2" y="319.7">e.</text><text x="1808.5" y="319.7">2873</text><text x="1923.7" y="319.7">cm</text><text x="1990.6" y="305.7" font-size="30">−</text><text x="2010.2" y="305.7" font-size="30">1</text></g>
<g font-weight="bold" font-size="51" fill="#404040">
<text x="1502.9" y="619.5">a</text><text x="1548.1" y="655.1">b</text><text x="1696.1" y="686.5">c</text><text x="1731" y="691">d</text><text x="1785.3" y="701.2">e</text>
</g>
<line x1="1519.1" y1="630.2" x2="1519.1" y2="666.2" stroke="#404040" stroke-width="5"/><polygon points="1509.6999999999998,665.2 1528.5,665.2 1519.1,678" fill="#404040"/><line x1="1564.8" y1="664.5" x2="1564.8" y2="699.3" stroke="#404040" stroke-width="5"/><polygon points="1555.3999999999999,698.3 1574.2,698.3 1564.8,711.4" fill="#404040"/><line x1="1711.9" y1="695.1" x2="1711.9" y2="731" stroke="#404040" stroke-width="5"/><polygon points="1702.7,730 1721.1000000000001,730 1711.9,741.3" fill="#404040"/><line x1="1744.6" y1="698.4" x2="1744.6" y2="734.2" stroke="#404040" stroke-width="5"/><polygon points="1735.6,733.2 1753.6,733.2 1744.6,744.6" fill="#404040"/><line x1="1800.7" y1="714.6" x2="1800.7" y2="750.4" stroke="#404040" stroke-width="5"/><polygon points="1791.5,749.4 1809.9,749.4 1800.7,760.8" fill="#404040"/>
<g font-size="47" fill="#000" text-anchor="middle"><text x="113.0" y="1048.7">4600</text><text x="308.5" y="1048.7">4400</text><text x="503.9" y="1048.7">4200</text><text x="699.4" y="1048.7">4000</text><text x="894.8" y="1048.7">3800</text><text x="1090.3" y="1048.7">3600</text><text x="1285.8" y="1048.7">3400</text><text x="1481.2" y="1048.7">3200</text><text x="1676.7" y="1048.7">3000</text><text x="1872.1" y="1048.7">2800</text><text x="2067.6" y="1048.7">2600</text></g>
<g font-weight="bold" fill="#000">
<text x="786.4" y="1128.8" font-size="79.5">Wavenumber (cm</text>
<text x="1446.3" y="1105.2" font-size="53.5">−</text>
<text x="1478.2" y="1105.2" font-size="53.5">1</text>
<text x="1506.9" y="1128.8" font-size="79.5">)</text>
<text transform="translate(79.3,739) rotate(-90)" font-size="80">Absorption</text>
</g>
</svg>
</body></html>
